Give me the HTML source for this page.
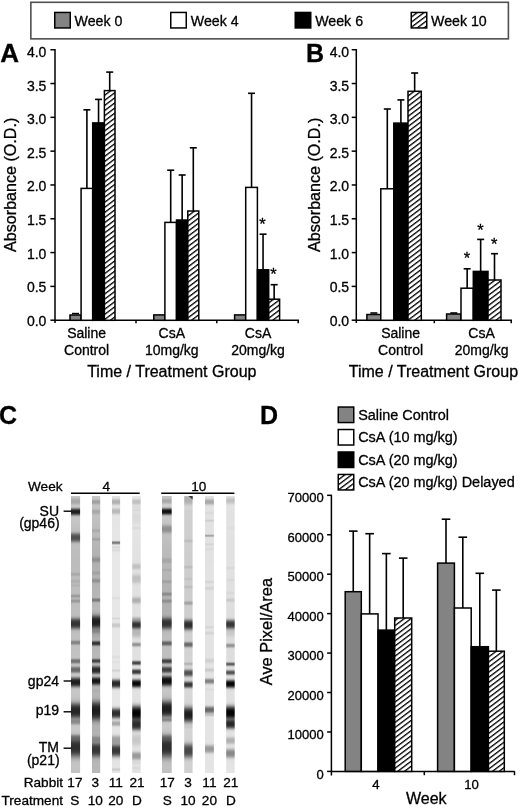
<!DOCTYPE html>
<html><head><meta charset="utf-8"><title>Figure</title>
<style>html,body{margin:0;padding:0;background:#fff;width:520px;height:808px;overflow:hidden;font-family:"Liberation Sans", sans-serif;}</style>
</head><body>
<div style="position:absolute;left:0;top:0;width:520px;height:808px;will-change:transform">
<svg width="520" height="808" viewBox="0 0 520 808" style="position:absolute;left:0;top:0;font-family:'Liberation Sans', sans-serif"><g id="all"><defs>
<pattern id="hatch" patternUnits="userSpaceOnUse" width="4.07" height="4.07" patternTransform="rotate(53)">
<rect width="4.07" height="4.07" fill="#fff"/><rect x="0" y="0" width="1.3" height="4.07" fill="#000"/></pattern>
</defs><rect width="520" height="808" fill="#fff"/><style>text{stroke:#000;stroke-width:0.3px;}</style><rect x="30.85" y="2.30" width="477.55" height="36.55" fill="none" stroke="#505050" stroke-width="1.6"/><rect x="54.75" y="12.45" width="15.50" height="15.50" fill="#838383" stroke="#000" stroke-width="1.5"/><text x="74.60" y="26.00" font-size="14.2" text-anchor="start" font-weight="normal" >Week 0</text><rect x="170.75" y="12.45" width="15.50" height="15.50" fill="#fff" stroke="#000" stroke-width="1.5"/><text x="190.80" y="26.00" font-size="14.2" text-anchor="start" font-weight="normal" >Week 4</text><rect x="295.25" y="12.45" width="15.50" height="15.50" fill="#000" stroke="#000" stroke-width="1.5"/><text x="315.20" y="26.00" font-size="14.2" text-anchor="start" font-weight="normal" >Week 6</text><rect x="411.25" y="12.45" width="15.50" height="15.50" fill="url(#hatch)" stroke="#000" stroke-width="1.5"/><text x="431.00" y="26.00" font-size="14.2" text-anchor="start" font-weight="normal" >Week 10</text><text x="0.30" y="62.00" font-size="25" text-anchor="start" font-weight="bold" transform="translate(0.3,62) scale(1.04,1) translate(-0.3,-62)">A</text><line x1="55.00" y1="48.97" x2="55.00" y2="322.90" stroke="#000" stroke-width="1.5"/><line x1="50.40" y1="320.20" x2="55.00" y2="320.20" stroke="#000" stroke-width="1.5"/><text x="46.40" y="325.80" font-size="14" text-anchor="end" font-weight="normal" >0.0</text><line x1="50.40" y1="286.39" x2="55.00" y2="286.39" stroke="#000" stroke-width="1.5"/><text x="46.40" y="292.19" font-size="14" text-anchor="end" font-weight="normal" >0.5</text><line x1="50.40" y1="252.58" x2="55.00" y2="252.58" stroke="#000" stroke-width="1.5"/><text x="46.40" y="258.58" font-size="14" text-anchor="end" font-weight="normal" >1.0</text><line x1="50.40" y1="218.77" x2="55.00" y2="218.77" stroke="#000" stroke-width="1.5"/><text x="46.40" y="224.97" font-size="14" text-anchor="end" font-weight="normal" >1.5</text><line x1="50.40" y1="184.96" x2="55.00" y2="184.96" stroke="#000" stroke-width="1.5"/><text x="46.40" y="191.36" font-size="14" text-anchor="end" font-weight="normal" >2.0</text><line x1="50.40" y1="151.15" x2="55.00" y2="151.15" stroke="#000" stroke-width="1.5"/><text x="46.40" y="157.75" font-size="14" text-anchor="end" font-weight="normal" >2.5</text><line x1="50.40" y1="117.34" x2="55.00" y2="117.34" stroke="#000" stroke-width="1.5"/><text x="46.40" y="124.14" font-size="14" text-anchor="end" font-weight="normal" >3.0</text><line x1="50.40" y1="83.53" x2="55.00" y2="83.53" stroke="#000" stroke-width="1.5"/><text x="46.40" y="90.53" font-size="14" text-anchor="end" font-weight="normal" >3.5</text><line x1="50.40" y1="49.72" x2="55.00" y2="49.72" stroke="#000" stroke-width="1.5"/><text x="46.40" y="56.92" font-size="14" text-anchor="end" font-weight="normal" >4.0</text><line x1="55.00" y1="320.20" x2="298.95" y2="320.20" stroke="#000" stroke-width="1.5"/><line x1="136.00" y1="320.20" x2="136.00" y2="323.20" stroke="#000" stroke-width="1.5"/><line x1="216.80" y1="320.20" x2="216.80" y2="323.20" stroke="#000" stroke-width="1.5"/><line x1="298.20" y1="320.20" x2="298.20" y2="323.20" stroke="#000" stroke-width="1.5"/><text transform="translate(16.2,184.8) rotate(-90)" font-size="16.1" text-anchor="middle">Absorbance (O.D.)</text><line x1="86.90" y1="188.40" x2="86.90" y2="109.80" stroke="#000" stroke-width="1.6"/><line x1="83.40" y1="109.80" x2="90.40" y2="109.80" stroke="#000" stroke-width="1.6"/><line x1="98.55" y1="122.90" x2="98.55" y2="99.40" stroke="#000" stroke-width="1.6"/><line x1="95.05" y1="99.40" x2="102.05" y2="99.40" stroke="#000" stroke-width="1.6"/><line x1="109.70" y1="90.60" x2="109.70" y2="72.10" stroke="#000" stroke-width="1.6"/><line x1="106.20" y1="72.10" x2="113.20" y2="72.10" stroke="#000" stroke-width="1.6"/><rect x="70.00" y="315.00" width="11.10" height="5.30" fill="#838383" stroke="#000" stroke-width="1.5"/><rect x="81.10" y="188.40" width="11.60" height="131.90" fill="#fff" stroke="#000" stroke-width="1.5"/><rect x="92.70" y="122.90" width="11.70" height="197.40" fill="#000" stroke="#000" stroke-width="1.5"/><rect x="104.40" y="90.60" width="10.60" height="229.70" fill="url(#hatch)" stroke="#000" stroke-width="1.5"/><line x1="72.05" y1="313.60" x2="79.05" y2="313.60" stroke="#000" stroke-width="1.6"/><line x1="170.70" y1="222.40" x2="170.70" y2="170.20" stroke="#000" stroke-width="1.6"/><line x1="167.20" y1="170.20" x2="174.20" y2="170.20" stroke="#000" stroke-width="1.6"/><line x1="182.15" y1="220.00" x2="182.15" y2="175.00" stroke="#000" stroke-width="1.6"/><line x1="178.65" y1="175.00" x2="185.65" y2="175.00" stroke="#000" stroke-width="1.6"/><line x1="193.30" y1="211.00" x2="193.30" y2="147.80" stroke="#000" stroke-width="1.6"/><line x1="189.80" y1="147.80" x2="196.80" y2="147.80" stroke="#000" stroke-width="1.6"/><rect x="153.80" y="314.90" width="11.10" height="5.40" fill="#838383" stroke="#000" stroke-width="1.5"/><rect x="164.90" y="222.40" width="11.60" height="97.90" fill="#fff" stroke="#000" stroke-width="1.5"/><rect x="176.50" y="220.00" width="11.30" height="100.30" fill="#000" stroke="#000" stroke-width="1.5"/><rect x="187.80" y="211.00" width="11.00" height="109.30" fill="url(#hatch)" stroke="#000" stroke-width="1.5"/><line x1="251.55" y1="187.40" x2="251.55" y2="93.30" stroke="#000" stroke-width="1.6"/><line x1="248.05" y1="93.30" x2="255.05" y2="93.30" stroke="#000" stroke-width="1.6"/><line x1="263.05" y1="269.80" x2="263.05" y2="234.20" stroke="#000" stroke-width="1.6"/><line x1="259.55" y1="234.20" x2="266.55" y2="234.20" stroke="#000" stroke-width="1.6"/><line x1="274.15" y1="299.20" x2="274.15" y2="284.70" stroke="#000" stroke-width="1.6"/><line x1="270.65" y1="284.70" x2="277.65" y2="284.70" stroke="#000" stroke-width="1.6"/><rect x="234.60" y="314.90" width="11.10" height="5.40" fill="#838383" stroke="#000" stroke-width="1.5"/><rect x="245.70" y="187.40" width="11.70" height="132.90" fill="#fff" stroke="#000" stroke-width="1.5"/><rect x="257.40" y="269.80" width="11.30" height="50.50" fill="#000" stroke="#000" stroke-width="1.5"/><rect x="268.70" y="299.20" width="10.90" height="21.10" fill="url(#hatch)" stroke="#000" stroke-width="1.5"/><text x="262.40" y="229.98" font-size="16.5" text-anchor="middle" font-weight="normal" >*</text><text x="273.50" y="279.68" font-size="16.5" text-anchor="middle" font-weight="normal" >*</text><text x="86.60" y="338.00" font-size="14" text-anchor="middle" font-weight="normal" >Saline</text><text x="86.60" y="355.00" font-size="14" text-anchor="middle" font-weight="normal" >Control</text><text x="171.80" y="338.00" font-size="14" text-anchor="middle" font-weight="normal" >CsA</text><text x="171.80" y="355.00" font-size="14" text-anchor="middle" font-weight="normal" >10mg/kg</text><text x="258.00" y="338.00" font-size="14" text-anchor="middle" font-weight="normal" >CsA</text><text x="258.00" y="355.00" font-size="14" text-anchor="middle" font-weight="normal" >20mg/kg</text><text x="87.20" y="377.00" font-size="16" text-anchor="start" font-weight="normal" >Time / Treatment Group</text><text x="306.00" y="62.20" font-size="25" text-anchor="start" font-weight="bold" >B</text><line x1="356.30" y1="48.97" x2="356.30" y2="322.90" stroke="#000" stroke-width="1.5"/><line x1="351.70" y1="320.20" x2="356.30" y2="320.20" stroke="#000" stroke-width="1.5"/><text x="349.10" y="325.80" font-size="14" text-anchor="end" font-weight="normal" >0.0</text><line x1="351.70" y1="286.39" x2="356.30" y2="286.39" stroke="#000" stroke-width="1.5"/><text x="349.10" y="292.19" font-size="14" text-anchor="end" font-weight="normal" >0.5</text><line x1="351.70" y1="252.58" x2="356.30" y2="252.58" stroke="#000" stroke-width="1.5"/><text x="349.10" y="258.58" font-size="14" text-anchor="end" font-weight="normal" >1.0</text><line x1="351.70" y1="218.77" x2="356.30" y2="218.77" stroke="#000" stroke-width="1.5"/><text x="349.10" y="224.97" font-size="14" text-anchor="end" font-weight="normal" >1.5</text><line x1="351.70" y1="184.96" x2="356.30" y2="184.96" stroke="#000" stroke-width="1.5"/><text x="349.10" y="191.36" font-size="14" text-anchor="end" font-weight="normal" >2.0</text><line x1="351.70" y1="151.15" x2="356.30" y2="151.15" stroke="#000" stroke-width="1.5"/><text x="349.10" y="157.75" font-size="14" text-anchor="end" font-weight="normal" >2.5</text><line x1="351.70" y1="117.34" x2="356.30" y2="117.34" stroke="#000" stroke-width="1.5"/><text x="349.10" y="124.14" font-size="14" text-anchor="end" font-weight="normal" >3.0</text><line x1="351.70" y1="83.53" x2="356.30" y2="83.53" stroke="#000" stroke-width="1.5"/><text x="349.10" y="90.53" font-size="14" text-anchor="end" font-weight="normal" >3.5</text><line x1="351.70" y1="49.72" x2="356.30" y2="49.72" stroke="#000" stroke-width="1.5"/><text x="349.10" y="56.92" font-size="14" text-anchor="end" font-weight="normal" >4.0</text><line x1="356.30" y1="320.20" x2="511.95" y2="320.20" stroke="#000" stroke-width="1.5"/><line x1="434.30" y1="320.20" x2="434.30" y2="323.20" stroke="#000" stroke-width="1.5"/><line x1="511.20" y1="320.20" x2="511.20" y2="323.20" stroke="#000" stroke-width="1.5"/><text transform="translate(320.3,184.8) rotate(-90)" font-size="16.1" text-anchor="middle">Absorbance (O.D.)</text><line x1="387.30" y1="188.80" x2="387.30" y2="109.00" stroke="#000" stroke-width="1.6"/><line x1="383.80" y1="109.00" x2="390.80" y2="109.00" stroke="#000" stroke-width="1.6"/><line x1="400.90" y1="123.10" x2="400.90" y2="99.90" stroke="#000" stroke-width="1.6"/><line x1="397.40" y1="99.90" x2="404.40" y2="99.90" stroke="#000" stroke-width="1.6"/><line x1="414.65" y1="91.30" x2="414.65" y2="73.00" stroke="#000" stroke-width="1.6"/><line x1="411.15" y1="73.00" x2="418.15" y2="73.00" stroke="#000" stroke-width="1.6"/><rect x="366.90" y="314.50" width="13.90" height="5.80" fill="#838383" stroke="#000" stroke-width="1.5"/><rect x="380.80" y="188.80" width="13.00" height="131.50" fill="#fff" stroke="#000" stroke-width="1.5"/><rect x="393.80" y="123.10" width="14.20" height="197.20" fill="#000" stroke="#000" stroke-width="1.5"/><rect x="408.00" y="91.30" width="13.30" height="229.00" fill="url(#hatch)" stroke="#000" stroke-width="1.5"/><line x1="370.35" y1="313.00" x2="377.35" y2="313.00" stroke="#000" stroke-width="1.6"/><line x1="467.15" y1="288.20" x2="467.15" y2="268.80" stroke="#000" stroke-width="1.6"/><line x1="463.65" y1="268.80" x2="470.65" y2="268.80" stroke="#000" stroke-width="1.6"/><line x1="480.65" y1="271.40" x2="480.65" y2="239.40" stroke="#000" stroke-width="1.6"/><line x1="477.15" y1="239.40" x2="484.15" y2="239.40" stroke="#000" stroke-width="1.6"/><line x1="494.50" y1="280.00" x2="494.50" y2="253.70" stroke="#000" stroke-width="1.6"/><line x1="491.00" y1="253.70" x2="498.00" y2="253.70" stroke="#000" stroke-width="1.6"/><rect x="446.60" y="314.00" width="14.40" height="6.30" fill="#838383" stroke="#000" stroke-width="1.5"/><rect x="461.00" y="288.20" width="12.30" height="32.10" fill="#fff" stroke="#000" stroke-width="1.5"/><rect x="473.30" y="271.40" width="14.70" height="48.90" fill="#000" stroke="#000" stroke-width="1.5"/><rect x="488.00" y="280.00" width="13.00" height="40.30" fill="url(#hatch)" stroke="#000" stroke-width="1.5"/><line x1="450.30" y1="313.00" x2="457.30" y2="313.00" stroke="#000" stroke-width="1.6"/><text x="467.00" y="264.48" font-size="16.5" text-anchor="middle" font-weight="normal" >*</text><text x="480.50" y="235.58" font-size="16.5" text-anchor="middle" font-weight="normal" >*</text><text x="494.20" y="249.58" font-size="16.5" text-anchor="middle" font-weight="normal" >*</text><text x="400.60" y="338.00" font-size="14" text-anchor="middle" font-weight="normal" >Saline</text><text x="400.60" y="355.00" font-size="14" text-anchor="middle" font-weight="normal" >Control</text><text x="481.60" y="338.00" font-size="14" text-anchor="middle" font-weight="normal" >CsA</text><text x="481.60" y="355.00" font-size="14" text-anchor="middle" font-weight="normal" >20mg/kg</text><text x="348.80" y="377.00" font-size="16" text-anchor="start" font-weight="normal" >Time / Treatment Group</text><text x="-1.10" y="423.80" font-size="25" text-anchor="start" font-weight="bold" >C</text><text x="28.00" y="490.80" font-size="13.6" text-anchor="start" font-weight="normal" >Week</text><line x1="71.00" y1="493.20" x2="139.70" y2="493.20" stroke="#000" stroke-width="1.6"/><line x1="161.20" y1="493.20" x2="234.40" y2="493.20" stroke="#000" stroke-width="1.6"/><text x="106.20" y="490.80" font-size="13.6" text-anchor="middle" font-weight="normal" >4</text><text x="198.80" y="490.80" font-size="13.6" text-anchor="middle" font-weight="normal" >10</text><rect x="71" y="496" width="9.10" height="277" fill="url(#s0)"/><rect x="92" y="496" width="8.20" height="277" fill="url(#s1)"/><rect x="112" y="496" width="8.10" height="277" fill="url(#s2)"/><rect x="132.2" y="496" width="8.50" height="277" fill="url(#s3)"/><rect x="162" y="496" width="9.70" height="277" fill="url(#s4)"/><rect x="184.2" y="496" width="8.40" height="277" fill="url(#s5)"/><rect x="205" y="496" width="8.90" height="277" fill="url(#s6)"/><rect x="226.2" y="496" width="8.50" height="277" fill="url(#s7)"/><path d="M188.5,496 L192.6,496 L192.6,499.5 Z" fill="#333"/><defs><linearGradient id="s0" x1="0" y1="0" x2="0" y2="1"><stop offset="0.0000" stop-color="rgb(199,199,199)"/><stop offset="0.0036" stop-color="rgb(197,197,197)"/><stop offset="0.0072" stop-color="rgb(188,188,188)"/><stop offset="0.0108" stop-color="rgb(177,177,177)"/><stop offset="0.0144" stop-color="rgb(170,170,170)"/><stop offset="0.0181" stop-color="rgb(168,168,168)"/><stop offset="0.0217" stop-color="rgb(168,168,168)"/><stop offset="0.0253" stop-color="rgb(172,172,172)"/><stop offset="0.0289" stop-color="rgb(182,182,182)"/><stop offset="0.0325" stop-color="rgb(194,194,194)"/><stop offset="0.0361" stop-color="rgb(201,201,201)"/><stop offset="0.0397" stop-color="rgb(194,194,194)"/><stop offset="0.0433" stop-color="rgb(162,162,162)"/><stop offset="0.0469" stop-color="rgb(105,105,105)"/><stop offset="0.0505" stop-color="rgb(54,54,54)"/><stop offset="0.0542" stop-color="rgb(32,32,32)"/><stop offset="0.0578" stop-color="rgb(30,30,30)"/><stop offset="0.0614" stop-color="rgb(37,37,37)"/><stop offset="0.0650" stop-color="rgb(71,71,71)"/><stop offset="0.0686" stop-color="rgb(127,127,127)"/><stop offset="0.0722" stop-color="rgb(175,175,175)"/><stop offset="0.0758" stop-color="rgb(195,195,195)"/><stop offset="0.0794" stop-color="rgb(198,198,198)"/><stop offset="0.0830" stop-color="rgb(198,198,198)"/><stop offset="0.0866" stop-color="rgb(198,198,198)"/><stop offset="0.0903" stop-color="rgb(197,197,197)"/><stop offset="0.0939" stop-color="rgb(197,197,197)"/><stop offset="0.0975" stop-color="rgb(196,196,196)"/><stop offset="0.1011" stop-color="rgb(195,195,195)"/><stop offset="0.1047" stop-color="rgb(195,195,195)"/><stop offset="0.1083" stop-color="rgb(194,194,194)"/><stop offset="0.1119" stop-color="rgb(194,194,194)"/><stop offset="0.1155" stop-color="rgb(193,193,193)"/><stop offset="0.1191" stop-color="rgb(192,192,192)"/><stop offset="0.1227" stop-color="rgb(191,191,191)"/><stop offset="0.1264" stop-color="rgb(187,187,187)"/><stop offset="0.1300" stop-color="rgb(175,175,175)"/><stop offset="0.1336" stop-color="rgb(153,153,153)"/><stop offset="0.1372" stop-color="rgb(124,124,124)"/><stop offset="0.1408" stop-color="rgb(99,99,99)"/><stop offset="0.1444" stop-color="rgb(85,85,85)"/><stop offset="0.1480" stop-color="rgb(80,80,80)"/><stop offset="0.1516" stop-color="rgb(80,80,80)"/><stop offset="0.1552" stop-color="rgb(84,84,84)"/><stop offset="0.1588" stop-color="rgb(97,97,97)"/><stop offset="0.1625" stop-color="rgb(121,121,121)"/><stop offset="0.1661" stop-color="rgb(149,149,149)"/><stop offset="0.1697" stop-color="rgb(172,172,172)"/><stop offset="0.1733" stop-color="rgb(185,185,185)"/><stop offset="0.1769" stop-color="rgb(189,189,189)"/><stop offset="0.1805" stop-color="rgb(190,190,190)"/><stop offset="0.1841" stop-color="rgb(190,190,190)"/><stop offset="0.1877" stop-color="rgb(190,190,190)"/><stop offset="0.1913" stop-color="rgb(189,189,189)"/><stop offset="0.1949" stop-color="rgb(189,189,189)"/><stop offset="0.1986" stop-color="rgb(189,189,189)"/><stop offset="0.2022" stop-color="rgb(189,189,189)"/><stop offset="0.2058" stop-color="rgb(189,189,189)"/><stop offset="0.2094" stop-color="rgb(189,189,189)"/><stop offset="0.2130" stop-color="rgb(189,189,189)"/><stop offset="0.2166" stop-color="rgb(189,189,189)"/><stop offset="0.2202" stop-color="rgb(188,188,188)"/><stop offset="0.2238" stop-color="rgb(188,188,188)"/><stop offset="0.2274" stop-color="rgb(188,188,188)"/><stop offset="0.2310" stop-color="rgb(188,188,188)"/><stop offset="0.2347" stop-color="rgb(188,188,188)"/><stop offset="0.2383" stop-color="rgb(188,188,188)"/><stop offset="0.2419" stop-color="rgb(188,188,188)"/><stop offset="0.2455" stop-color="rgb(188,188,188)"/><stop offset="0.2491" stop-color="rgb(188,188,188)"/><stop offset="0.2527" stop-color="rgb(188,188,188)"/><stop offset="0.2563" stop-color="rgb(188,188,188)"/><stop offset="0.2599" stop-color="rgb(188,188,188)"/><stop offset="0.2635" stop-color="rgb(188,188,188)"/><stop offset="0.2671" stop-color="rgb(188,188,188)"/><stop offset="0.2708" stop-color="rgb(189,189,189)"/><stop offset="0.2744" stop-color="rgb(188,188,188)"/><stop offset="0.2780" stop-color="rgb(177,177,177)"/><stop offset="0.2816" stop-color="rgb(168,168,168)"/><stop offset="0.2852" stop-color="rgb(169,169,169)"/><stop offset="0.2888" stop-color="rgb(181,181,181)"/><stop offset="0.2924" stop-color="rgb(189,189,189)"/><stop offset="0.2960" stop-color="rgb(189,189,189)"/><stop offset="0.2996" stop-color="rgb(188,188,188)"/><stop offset="0.3032" stop-color="rgb(181,181,181)"/><stop offset="0.3069" stop-color="rgb(176,176,176)"/><stop offset="0.3105" stop-color="rgb(176,176,176)"/><stop offset="0.3141" stop-color="rgb(183,183,183)"/><stop offset="0.3177" stop-color="rgb(188,188,188)"/><stop offset="0.3213" stop-color="rgb(180,180,180)"/><stop offset="0.3249" stop-color="rgb(177,177,177)"/><stop offset="0.3285" stop-color="rgb(189,189,189)"/><stop offset="0.3321" stop-color="rgb(189,189,189)"/><stop offset="0.3357" stop-color="rgb(189,189,189)"/><stop offset="0.3394" stop-color="rgb(190,190,190)"/><stop offset="0.3430" stop-color="rgb(190,190,190)"/><stop offset="0.3466" stop-color="rgb(190,190,190)"/><stop offset="0.3502" stop-color="rgb(190,190,190)"/><stop offset="0.3538" stop-color="rgb(186,186,186)"/><stop offset="0.3574" stop-color="rgb(163,163,163)"/><stop offset="0.3610" stop-color="rgb(152,152,152)"/><stop offset="0.3646" stop-color="rgb(158,158,158)"/><stop offset="0.3682" stop-color="rgb(183,183,183)"/><stop offset="0.3718" stop-color="rgb(182,182,182)"/><stop offset="0.3755" stop-color="rgb(159,159,159)"/><stop offset="0.3791" stop-color="rgb(152,152,152)"/><stop offset="0.3827" stop-color="rgb(158,158,158)"/><stop offset="0.3863" stop-color="rgb(181,181,181)"/><stop offset="0.3899" stop-color="rgb(190,190,190)"/><stop offset="0.3935" stop-color="rgb(190,190,190)"/><stop offset="0.3971" stop-color="rgb(190,190,190)"/><stop offset="0.4007" stop-color="rgb(190,190,190)"/><stop offset="0.4043" stop-color="rgb(190,190,190)"/><stop offset="0.4079" stop-color="rgb(190,190,190)"/><stop offset="0.4116" stop-color="rgb(190,190,190)"/><stop offset="0.4152" stop-color="rgb(191,191,191)"/><stop offset="0.4188" stop-color="rgb(191,191,191)"/><stop offset="0.4224" stop-color="rgb(191,191,191)"/><stop offset="0.4260" stop-color="rgb(190,190,190)"/><stop offset="0.4296" stop-color="rgb(189,189,189)"/><stop offset="0.4332" stop-color="rgb(183,183,183)"/><stop offset="0.4368" stop-color="rgb(170,170,170)"/><stop offset="0.4404" stop-color="rgb(148,148,148)"/><stop offset="0.4440" stop-color="rgb(118,118,118)"/><stop offset="0.4477" stop-color="rgb(89,89,89)"/><stop offset="0.4513" stop-color="rgb(67,67,67)"/><stop offset="0.4549" stop-color="rgb(56,56,56)"/><stop offset="0.4585" stop-color="rgb(52,52,52)"/><stop offset="0.4621" stop-color="rgb(52,52,52)"/><stop offset="0.4657" stop-color="rgb(55,55,55)"/><stop offset="0.4693" stop-color="rgb(64,64,64)"/><stop offset="0.4729" stop-color="rgb(84,84,84)"/><stop offset="0.4765" stop-color="rgb(112,112,112)"/><stop offset="0.4801" stop-color="rgb(143,143,143)"/><stop offset="0.4838" stop-color="rgb(167,167,167)"/><stop offset="0.4874" stop-color="rgb(182,182,182)"/><stop offset="0.4910" stop-color="rgb(189,189,189)"/><stop offset="0.4946" stop-color="rgb(191,191,191)"/><stop offset="0.4982" stop-color="rgb(192,192,192)"/><stop offset="0.5018" stop-color="rgb(192,192,192)"/><stop offset="0.5054" stop-color="rgb(192,192,192)"/><stop offset="0.5090" stop-color="rgb(192,192,192)"/><stop offset="0.5126" stop-color="rgb(192,192,192)"/><stop offset="0.5162" stop-color="rgb(192,192,192)"/><stop offset="0.5199" stop-color="rgb(186,186,186)"/><stop offset="0.5235" stop-color="rgb(156,156,156)"/><stop offset="0.5271" stop-color="rgb(130,130,130)"/><stop offset="0.5307" stop-color="rgb(128,128,128)"/><stop offset="0.5343" stop-color="rgb(146,146,146)"/><stop offset="0.5379" stop-color="rgb(181,181,181)"/><stop offset="0.5415" stop-color="rgb(193,193,193)"/><stop offset="0.5451" stop-color="rgb(193,193,193)"/><stop offset="0.5487" stop-color="rgb(193,193,193)"/><stop offset="0.5523" stop-color="rgb(193,193,193)"/><stop offset="0.5560" stop-color="rgb(194,194,194)"/><stop offset="0.5596" stop-color="rgb(194,194,194)"/><stop offset="0.5632" stop-color="rgb(194,194,194)"/><stop offset="0.5668" stop-color="rgb(194,194,194)"/><stop offset="0.5704" stop-color="rgb(194,194,194)"/><stop offset="0.5740" stop-color="rgb(194,194,194)"/><stop offset="0.5776" stop-color="rgb(195,195,195)"/><stop offset="0.5812" stop-color="rgb(195,195,195)"/><stop offset="0.5848" stop-color="rgb(190,190,190)"/><stop offset="0.5884" stop-color="rgb(162,162,162)"/><stop offset="0.5921" stop-color="rgb(123,123,123)"/><stop offset="0.5957" stop-color="rgb(112,112,112)"/><stop offset="0.5993" stop-color="rgb(116,116,116)"/><stop offset="0.6029" stop-color="rgb(145,145,145)"/><stop offset="0.6065" stop-color="rgb(183,183,183)"/><stop offset="0.6101" stop-color="rgb(194,194,194)"/><stop offset="0.6137" stop-color="rgb(184,184,184)"/><stop offset="0.6173" stop-color="rgb(154,154,154)"/><stop offset="0.6209" stop-color="rgb(121,121,121)"/><stop offset="0.6245" stop-color="rgb(106,106,106)"/><stop offset="0.6282" stop-color="rgb(104,104,104)"/><stop offset="0.6318" stop-color="rgb(109,109,109)"/><stop offset="0.6354" stop-color="rgb(133,133,133)"/><stop offset="0.6390" stop-color="rgb(170,170,170)"/><stop offset="0.6426" stop-color="rgb(196,196,196)"/><stop offset="0.6462" stop-color="rgb(201,201,201)"/><stop offset="0.6498" stop-color="rgb(189,189,189)"/><stop offset="0.6534" stop-color="rgb(160,160,160)"/><stop offset="0.6570" stop-color="rgb(118,118,118)"/><stop offset="0.6606" stop-color="rgb(77,77,77)"/><stop offset="0.6643" stop-color="rgb(47,47,47)"/><stop offset="0.6679" stop-color="rgb(33,33,33)"/><stop offset="0.6715" stop-color="rgb(30,30,30)"/><stop offset="0.6751" stop-color="rgb(31,31,31)"/><stop offset="0.6787" stop-color="rgb(39,39,39)"/><stop offset="0.6823" stop-color="rgb(62,62,62)"/><stop offset="0.6859" stop-color="rgb(99,99,99)"/><stop offset="0.6895" stop-color="rgb(141,141,141)"/><stop offset="0.6931" stop-color="rgb(173,173,173)"/><stop offset="0.6968" stop-color="rgb(192,192,192)"/><stop offset="0.7004" stop-color="rgb(198,198,198)"/><stop offset="0.7040" stop-color="rgb(199,199,199)"/><stop offset="0.7076" stop-color="rgb(199,199,199)"/><stop offset="0.7112" stop-color="rgb(198,198,198)"/><stop offset="0.7148" stop-color="rgb(198,198,198)"/><stop offset="0.7184" stop-color="rgb(197,197,197)"/><stop offset="0.7220" stop-color="rgb(197,197,197)"/><stop offset="0.7256" stop-color="rgb(196,196,196)"/><stop offset="0.7292" stop-color="rgb(194,194,194)"/><stop offset="0.7329" stop-color="rgb(191,191,191)"/><stop offset="0.7365" stop-color="rgb(185,185,185)"/><stop offset="0.7401" stop-color="rgb(175,175,175)"/><stop offset="0.7437" stop-color="rgb(160,160,160)"/><stop offset="0.7473" stop-color="rgb(140,140,140)"/><stop offset="0.7509" stop-color="rgb(117,117,117)"/><stop offset="0.7545" stop-color="rgb(93,93,93)"/><stop offset="0.7581" stop-color="rgb(73,73,73)"/><stop offset="0.7617" stop-color="rgb(57,57,57)"/><stop offset="0.7653" stop-color="rgb(46,46,46)"/><stop offset="0.7690" stop-color="rgb(40,40,40)"/><stop offset="0.7726" stop-color="rgb(38,38,38)"/><stop offset="0.7762" stop-color="rgb(38,38,38)"/><stop offset="0.7798" stop-color="rgb(38,38,38)"/><stop offset="0.7834" stop-color="rgb(41,41,41)"/><stop offset="0.7870" stop-color="rgb(48,48,48)"/><stop offset="0.7906" stop-color="rgb(60,60,60)"/><stop offset="0.7942" stop-color="rgb(77,77,77)"/><stop offset="0.7978" stop-color="rgb(99,99,99)"/><stop offset="0.8014" stop-color="rgb(123,123,123)"/><stop offset="0.8051" stop-color="rgb(140,140,140)"/><stop offset="0.8087" stop-color="rgb(139,139,139)"/><stop offset="0.8123" stop-color="rgb(134,134,134)"/><stop offset="0.8159" stop-color="rgb(138,138,138)"/><stop offset="0.8195" stop-color="rgb(144,144,144)"/><stop offset="0.8231" stop-color="rgb(164,164,164)"/><stop offset="0.8267" stop-color="rgb(189,189,189)"/><stop offset="0.8303" stop-color="rgb(200,200,200)"/><stop offset="0.8339" stop-color="rgb(201,201,201)"/><stop offset="0.8375" stop-color="rgb(201,201,201)"/><stop offset="0.8412" stop-color="rgb(201,201,201)"/><stop offset="0.8448" stop-color="rgb(201,201,201)"/><stop offset="0.8484" stop-color="rgb(200,200,200)"/><stop offset="0.8520" stop-color="rgb(198,198,198)"/><stop offset="0.8556" stop-color="rgb(194,194,194)"/><stop offset="0.8592" stop-color="rgb(183,183,183)"/><stop offset="0.8628" stop-color="rgb(156,156,156)"/><stop offset="0.8664" stop-color="rgb(127,127,127)"/><stop offset="0.8700" stop-color="rgb(112,112,112)"/><stop offset="0.8736" stop-color="rgb(102,102,102)"/><stop offset="0.8773" stop-color="rgb(100,100,100)"/><stop offset="0.8809" stop-color="rgb(94,94,94)"/><stop offset="0.8845" stop-color="rgb(81,81,81)"/><stop offset="0.8881" stop-color="rgb(68,68,68)"/><stop offset="0.8917" stop-color="rgb(58,58,58)"/><stop offset="0.8953" stop-color="rgb(51,51,51)"/><stop offset="0.8989" stop-color="rgb(48,48,48)"/><stop offset="0.9025" stop-color="rgb(46,46,46)"/><stop offset="0.9061" stop-color="rgb(46,46,46)"/><stop offset="0.9097" stop-color="rgb(46,46,46)"/><stop offset="0.9134" stop-color="rgb(47,47,47)"/><stop offset="0.9170" stop-color="rgb(49,49,49)"/><stop offset="0.9206" stop-color="rgb(54,54,54)"/><stop offset="0.9242" stop-color="rgb(62,62,62)"/><stop offset="0.9278" stop-color="rgb(73,73,73)"/><stop offset="0.9314" stop-color="rgb(87,87,87)"/><stop offset="0.9350" stop-color="rgb(104,104,104)"/><stop offset="0.9386" stop-color="rgb(122,122,122)"/><stop offset="0.9422" stop-color="rgb(139,139,139)"/><stop offset="0.9458" stop-color="rgb(155,155,155)"/><stop offset="0.9495" stop-color="rgb(169,169,169)"/><stop offset="0.9531" stop-color="rgb(179,179,179)"/><stop offset="0.9567" stop-color="rgb(187,187,187)"/><stop offset="0.9603" stop-color="rgb(191,191,191)"/><stop offset="0.9639" stop-color="rgb(194,194,194)"/><stop offset="0.9675" stop-color="rgb(195,195,195)"/><stop offset="0.9711" stop-color="rgb(196,196,196)"/><stop offset="0.9747" stop-color="rgb(196,196,196)"/><stop offset="0.9783" stop-color="rgb(196,196,196)"/><stop offset="0.9819" stop-color="rgb(196,196,196)"/><stop offset="0.9856" stop-color="rgb(196,196,196)"/><stop offset="0.9892" stop-color="rgb(195,195,195)"/><stop offset="0.9928" stop-color="rgb(195,195,195)"/><stop offset="0.9964" stop-color="rgb(195,195,195)"/><stop offset="1.0000" stop-color="rgb(195,195,195)"/></linearGradient><linearGradient id="s1" x1="0" y1="0" x2="0" y2="1"><stop offset="0.0000" stop-color="rgb(200,200,200)"/><stop offset="0.0036" stop-color="rgb(200,200,200)"/><stop offset="0.0072" stop-color="rgb(199,199,199)"/><stop offset="0.0108" stop-color="rgb(196,196,196)"/><stop offset="0.0144" stop-color="rgb(180,180,180)"/><stop offset="0.0181" stop-color="rgb(163,163,163)"/><stop offset="0.0217" stop-color="rgb(160,160,160)"/><stop offset="0.0253" stop-color="rgb(164,164,164)"/><stop offset="0.0289" stop-color="rgb(180,180,180)"/><stop offset="0.0325" stop-color="rgb(194,194,194)"/><stop offset="0.0361" stop-color="rgb(197,197,197)"/><stop offset="0.0397" stop-color="rgb(196,196,196)"/><stop offset="0.0433" stop-color="rgb(196,196,196)"/><stop offset="0.0469" stop-color="rgb(192,192,192)"/><stop offset="0.0505" stop-color="rgb(179,179,179)"/><stop offset="0.0542" stop-color="rgb(169,169,169)"/><stop offset="0.0578" stop-color="rgb(168,168,168)"/><stop offset="0.0614" stop-color="rgb(171,171,171)"/><stop offset="0.0650" stop-color="rgb(183,183,183)"/><stop offset="0.0686" stop-color="rgb(192,192,192)"/><stop offset="0.0722" stop-color="rgb(193,193,193)"/><stop offset="0.0758" stop-color="rgb(193,193,193)"/><stop offset="0.0794" stop-color="rgb(193,193,193)"/><stop offset="0.0830" stop-color="rgb(192,192,192)"/><stop offset="0.0866" stop-color="rgb(192,192,192)"/><stop offset="0.0903" stop-color="rgb(192,192,192)"/><stop offset="0.0939" stop-color="rgb(191,191,191)"/><stop offset="0.0975" stop-color="rgb(191,191,191)"/><stop offset="0.1011" stop-color="rgb(190,190,190)"/><stop offset="0.1047" stop-color="rgb(190,190,190)"/><stop offset="0.1083" stop-color="rgb(190,190,190)"/><stop offset="0.1119" stop-color="rgb(189,189,189)"/><stop offset="0.1155" stop-color="rgb(189,189,189)"/><stop offset="0.1191" stop-color="rgb(185,185,185)"/><stop offset="0.1227" stop-color="rgb(171,171,171)"/><stop offset="0.1264" stop-color="rgb(168,168,168)"/><stop offset="0.1300" stop-color="rgb(177,177,177)"/><stop offset="0.1336" stop-color="rgb(186,186,186)"/><stop offset="0.1372" stop-color="rgb(186,186,186)"/><stop offset="0.1408" stop-color="rgb(186,186,186)"/><stop offset="0.1444" stop-color="rgb(186,186,186)"/><stop offset="0.1480" stop-color="rgb(185,185,185)"/><stop offset="0.1516" stop-color="rgb(173,173,173)"/><stop offset="0.1552" stop-color="rgb(160,160,160)"/><stop offset="0.1588" stop-color="rgb(163,163,163)"/><stop offset="0.1625" stop-color="rgb(180,180,180)"/><stop offset="0.1661" stop-color="rgb(183,183,183)"/><stop offset="0.1697" stop-color="rgb(183,183,183)"/><stop offset="0.1733" stop-color="rgb(182,182,182)"/><stop offset="0.1769" stop-color="rgb(182,182,182)"/><stop offset="0.1805" stop-color="rgb(182,182,182)"/><stop offset="0.1841" stop-color="rgb(181,181,181)"/><stop offset="0.1877" stop-color="rgb(181,181,181)"/><stop offset="0.1913" stop-color="rgb(180,180,180)"/><stop offset="0.1949" stop-color="rgb(180,180,180)"/><stop offset="0.1986" stop-color="rgb(180,180,180)"/><stop offset="0.2022" stop-color="rgb(179,179,179)"/><stop offset="0.2058" stop-color="rgb(179,179,179)"/><stop offset="0.2094" stop-color="rgb(178,178,178)"/><stop offset="0.2130" stop-color="rgb(178,178,178)"/><stop offset="0.2166" stop-color="rgb(176,176,176)"/><stop offset="0.2202" stop-color="rgb(168,168,168)"/><stop offset="0.2238" stop-color="rgb(154,154,154)"/><stop offset="0.2274" stop-color="rgb(145,145,145)"/><stop offset="0.2310" stop-color="rgb(144,144,144)"/><stop offset="0.2347" stop-color="rgb(148,148,148)"/><stop offset="0.2383" stop-color="rgb(160,160,160)"/><stop offset="0.2419" stop-color="rgb(172,172,172)"/><stop offset="0.2455" stop-color="rgb(176,176,176)"/><stop offset="0.2491" stop-color="rgb(177,177,177)"/><stop offset="0.2527" stop-color="rgb(177,177,177)"/><stop offset="0.2563" stop-color="rgb(177,177,177)"/><stop offset="0.2599" stop-color="rgb(177,177,177)"/><stop offset="0.2635" stop-color="rgb(177,177,177)"/><stop offset="0.2671" stop-color="rgb(178,178,178)"/><stop offset="0.2708" stop-color="rgb(174,174,174)"/><stop offset="0.2744" stop-color="rgb(163,163,163)"/><stop offset="0.2780" stop-color="rgb(160,160,160)"/><stop offset="0.2816" stop-color="rgb(164,164,164)"/><stop offset="0.2852" stop-color="rgb(175,175,175)"/><stop offset="0.2888" stop-color="rgb(178,178,178)"/><stop offset="0.2924" stop-color="rgb(179,179,179)"/><stop offset="0.2960" stop-color="rgb(176,176,176)"/><stop offset="0.2996" stop-color="rgb(161,161,161)"/><stop offset="0.3032" stop-color="rgb(146,146,146)"/><stop offset="0.3069" stop-color="rgb(144,144,144)"/><stop offset="0.3105" stop-color="rgb(152,152,152)"/><stop offset="0.3141" stop-color="rgb(172,172,172)"/><stop offset="0.3177" stop-color="rgb(179,179,179)"/><stop offset="0.3213" stop-color="rgb(180,180,180)"/><stop offset="0.3249" stop-color="rgb(180,180,180)"/><stop offset="0.3285" stop-color="rgb(180,180,180)"/><stop offset="0.3321" stop-color="rgb(180,180,180)"/><stop offset="0.3357" stop-color="rgb(181,181,181)"/><stop offset="0.3394" stop-color="rgb(181,181,181)"/><stop offset="0.3430" stop-color="rgb(181,181,181)"/><stop offset="0.3466" stop-color="rgb(181,181,181)"/><stop offset="0.3502" stop-color="rgb(181,181,181)"/><stop offset="0.3538" stop-color="rgb(181,181,181)"/><stop offset="0.3574" stop-color="rgb(182,182,182)"/><stop offset="0.3610" stop-color="rgb(182,182,182)"/><stop offset="0.3646" stop-color="rgb(182,182,182)"/><stop offset="0.3682" stop-color="rgb(172,172,172)"/><stop offset="0.3718" stop-color="rgb(133,133,133)"/><stop offset="0.3755" stop-color="rgb(118,118,118)"/><stop offset="0.3791" stop-color="rgb(127,127,127)"/><stop offset="0.3827" stop-color="rgb(167,167,167)"/><stop offset="0.3863" stop-color="rgb(182,182,182)"/><stop offset="0.3899" stop-color="rgb(183,183,183)"/><stop offset="0.3935" stop-color="rgb(183,183,183)"/><stop offset="0.3971" stop-color="rgb(183,183,183)"/><stop offset="0.4007" stop-color="rgb(184,184,184)"/><stop offset="0.4043" stop-color="rgb(184,184,184)"/><stop offset="0.4079" stop-color="rgb(184,184,184)"/><stop offset="0.4116" stop-color="rgb(184,184,184)"/><stop offset="0.4152" stop-color="rgb(182,182,182)"/><stop offset="0.4188" stop-color="rgb(178,178,178)"/><stop offset="0.4224" stop-color="rgb(171,171,171)"/><stop offset="0.4260" stop-color="rgb(159,159,159)"/><stop offset="0.4296" stop-color="rgb(139,139,139)"/><stop offset="0.4332" stop-color="rgb(114,114,114)"/><stop offset="0.4368" stop-color="rgb(86,86,86)"/><stop offset="0.4404" stop-color="rgb(61,61,61)"/><stop offset="0.4440" stop-color="rgb(44,44,44)"/><stop offset="0.4477" stop-color="rgb(34,34,34)"/><stop offset="0.4513" stop-color="rgb(31,31,31)"/><stop offset="0.4549" stop-color="rgb(30,30,30)"/><stop offset="0.4585" stop-color="rgb(31,31,31)"/><stop offset="0.4621" stop-color="rgb(35,35,35)"/><stop offset="0.4657" stop-color="rgb(45,45,45)"/><stop offset="0.4693" stop-color="rgb(62,62,62)"/><stop offset="0.4729" stop-color="rgb(85,85,85)"/><stop offset="0.4765" stop-color="rgb(107,107,107)"/><stop offset="0.4801" stop-color="rgb(125,125,125)"/><stop offset="0.4838" stop-color="rgb(130,130,130)"/><stop offset="0.4874" stop-color="rgb(131,131,131)"/><stop offset="0.4910" stop-color="rgb(137,137,137)"/><stop offset="0.4946" stop-color="rgb(149,149,149)"/><stop offset="0.4982" stop-color="rgb(161,161,161)"/><stop offset="0.5018" stop-color="rgb(165,165,165)"/><stop offset="0.5054" stop-color="rgb(168,168,168)"/><stop offset="0.5090" stop-color="rgb(171,171,171)"/><stop offset="0.5126" stop-color="rgb(174,174,174)"/><stop offset="0.5162" stop-color="rgb(177,177,177)"/><stop offset="0.5199" stop-color="rgb(176,176,176)"/><stop offset="0.5235" stop-color="rgb(141,141,141)"/><stop offset="0.5271" stop-color="rgb(75,75,75)"/><stop offset="0.5307" stop-color="rgb(49,49,49)"/><stop offset="0.5343" stop-color="rgb(51,51,51)"/><stop offset="0.5379" stop-color="rgb(94,94,94)"/><stop offset="0.5415" stop-color="rgb(158,158,158)"/><stop offset="0.5451" stop-color="rgb(180,180,180)"/><stop offset="0.5487" stop-color="rgb(182,182,182)"/><stop offset="0.5523" stop-color="rgb(182,182,182)"/><stop offset="0.5560" stop-color="rgb(182,182,182)"/><stop offset="0.5596" stop-color="rgb(183,183,183)"/><stop offset="0.5632" stop-color="rgb(183,183,183)"/><stop offset="0.5668" stop-color="rgb(183,183,183)"/><stop offset="0.5704" stop-color="rgb(184,184,184)"/><stop offset="0.5740" stop-color="rgb(184,184,184)"/><stop offset="0.5776" stop-color="rgb(184,184,184)"/><stop offset="0.5812" stop-color="rgb(184,184,184)"/><stop offset="0.5848" stop-color="rgb(180,180,180)"/><stop offset="0.5884" stop-color="rgb(138,138,138)"/><stop offset="0.5921" stop-color="rgb(77,77,77)"/><stop offset="0.5957" stop-color="rgb(64,64,64)"/><stop offset="0.5993" stop-color="rgb(81,81,81)"/><stop offset="0.6029" stop-color="rgb(145,145,145)"/><stop offset="0.6065" stop-color="rgb(179,179,179)"/><stop offset="0.6101" stop-color="rgb(171,171,171)"/><stop offset="0.6137" stop-color="rgb(141,141,141)"/><stop offset="0.6173" stop-color="rgb(98,98,98)"/><stop offset="0.6209" stop-color="rgb(61,61,61)"/><stop offset="0.6245" stop-color="rgb(43,43,43)"/><stop offset="0.6282" stop-color="rgb(40,40,40)"/><stop offset="0.6318" stop-color="rgb(42,42,42)"/><stop offset="0.6354" stop-color="rgb(58,58,58)"/><stop offset="0.6390" stop-color="rgb(96,96,96)"/><stop offset="0.6426" stop-color="rgb(145,145,145)"/><stop offset="0.6462" stop-color="rgb(182,182,182)"/><stop offset="0.6498" stop-color="rgb(182,182,182)"/><stop offset="0.6534" stop-color="rgb(143,143,143)"/><stop offset="0.6570" stop-color="rgb(88,88,88)"/><stop offset="0.6606" stop-color="rgb(45,45,45)"/><stop offset="0.6643" stop-color="rgb(25,25,25)"/><stop offset="0.6679" stop-color="rgb(22,22,22)"/><stop offset="0.6715" stop-color="rgb(25,25,25)"/><stop offset="0.6751" stop-color="rgb(42,42,42)"/><stop offset="0.6787" stop-color="rgb(81,81,81)"/><stop offset="0.6823" stop-color="rgb(129,129,129)"/><stop offset="0.6859" stop-color="rgb(164,164,164)"/><stop offset="0.6895" stop-color="rgb(179,179,179)"/><stop offset="0.6931" stop-color="rgb(181,181,181)"/><stop offset="0.6968" stop-color="rgb(179,179,179)"/><stop offset="0.7004" stop-color="rgb(176,176,176)"/><stop offset="0.7040" stop-color="rgb(177,177,177)"/><stop offset="0.7076" stop-color="rgb(179,179,179)"/><stop offset="0.7112" stop-color="rgb(180,180,180)"/><stop offset="0.7148" stop-color="rgb(181,181,181)"/><stop offset="0.7184" stop-color="rgb(182,182,182)"/><stop offset="0.7220" stop-color="rgb(181,181,181)"/><stop offset="0.7256" stop-color="rgb(179,179,179)"/><stop offset="0.7292" stop-color="rgb(174,174,174)"/><stop offset="0.7329" stop-color="rgb(167,167,167)"/><stop offset="0.7365" stop-color="rgb(155,155,155)"/><stop offset="0.7401" stop-color="rgb(138,138,138)"/><stop offset="0.7437" stop-color="rgb(120,120,120)"/><stop offset="0.7473" stop-color="rgb(100,100,100)"/><stop offset="0.7509" stop-color="rgb(81,81,81)"/><stop offset="0.7545" stop-color="rgb(64,64,64)"/><stop offset="0.7581" stop-color="rgb(51,51,51)"/><stop offset="0.7617" stop-color="rgb(41,41,41)"/><stop offset="0.7653" stop-color="rgb(35,35,35)"/><stop offset="0.7690" stop-color="rgb(31,31,31)"/><stop offset="0.7726" stop-color="rgb(30,30,30)"/><stop offset="0.7762" stop-color="rgb(30,30,30)"/><stop offset="0.7798" stop-color="rgb(30,30,30)"/><stop offset="0.7834" stop-color="rgb(32,32,32)"/><stop offset="0.7870" stop-color="rgb(35,35,35)"/><stop offset="0.7906" stop-color="rgb(42,42,42)"/><stop offset="0.7942" stop-color="rgb(52,52,52)"/><stop offset="0.7978" stop-color="rgb(65,65,65)"/><stop offset="0.8014" stop-color="rgb(82,82,82)"/><stop offset="0.8051" stop-color="rgb(100,100,100)"/><stop offset="0.8087" stop-color="rgb(119,119,119)"/><stop offset="0.8123" stop-color="rgb(136,136,136)"/><stop offset="0.8159" stop-color="rgb(151,151,151)"/><stop offset="0.8195" stop-color="rgb(162,162,162)"/><stop offset="0.8231" stop-color="rgb(169,169,169)"/><stop offset="0.8267" stop-color="rgb(174,174,174)"/><stop offset="0.8303" stop-color="rgb(177,177,177)"/><stop offset="0.8339" stop-color="rgb(178,178,178)"/><stop offset="0.8375" stop-color="rgb(178,178,178)"/><stop offset="0.8412" stop-color="rgb(178,178,178)"/><stop offset="0.8448" stop-color="rgb(178,178,178)"/><stop offset="0.8484" stop-color="rgb(178,178,178)"/><stop offset="0.8520" stop-color="rgb(178,178,178)"/><stop offset="0.8556" stop-color="rgb(178,178,178)"/><stop offset="0.8592" stop-color="rgb(178,178,178)"/><stop offset="0.8628" stop-color="rgb(177,177,177)"/><stop offset="0.8664" stop-color="rgb(167,167,167)"/><stop offset="0.8700" stop-color="rgb(150,150,150)"/><stop offset="0.8736" stop-color="rgb(138,138,138)"/><stop offset="0.8773" stop-color="rgb(134,134,134)"/><stop offset="0.8809" stop-color="rgb(131,131,131)"/><stop offset="0.8845" stop-color="rgb(133,133,133)"/><stop offset="0.8881" stop-color="rgb(136,136,136)"/><stop offset="0.8917" stop-color="rgb(127,127,127)"/><stop offset="0.8953" stop-color="rgb(108,108,108)"/><stop offset="0.8989" stop-color="rgb(89,89,89)"/><stop offset="0.9025" stop-color="rgb(72,72,72)"/><stop offset="0.9061" stop-color="rgb(62,62,62)"/><stop offset="0.9097" stop-color="rgb(56,56,56)"/><stop offset="0.9134" stop-color="rgb(54,54,54)"/><stop offset="0.9170" stop-color="rgb(54,54,54)"/><stop offset="0.9206" stop-color="rgb(55,55,55)"/><stop offset="0.9242" stop-color="rgb(58,58,58)"/><stop offset="0.9278" stop-color="rgb(66,66,66)"/><stop offset="0.9314" stop-color="rgb(79,79,79)"/><stop offset="0.9350" stop-color="rgb(97,97,97)"/><stop offset="0.9386" stop-color="rgb(118,118,118)"/><stop offset="0.9422" stop-color="rgb(139,139,139)"/><stop offset="0.9458" stop-color="rgb(156,156,156)"/><stop offset="0.9495" stop-color="rgb(169,169,169)"/><stop offset="0.9531" stop-color="rgb(176,176,176)"/><stop offset="0.9567" stop-color="rgb(180,180,180)"/><stop offset="0.9603" stop-color="rgb(182,182,182)"/><stop offset="0.9639" stop-color="rgb(182,182,182)"/><stop offset="0.9675" stop-color="rgb(183,183,183)"/><stop offset="0.9711" stop-color="rgb(183,183,183)"/><stop offset="0.9747" stop-color="rgb(183,183,183)"/><stop offset="0.9783" stop-color="rgb(183,183,183)"/><stop offset="0.9819" stop-color="rgb(183,183,183)"/><stop offset="0.9856" stop-color="rgb(183,183,183)"/><stop offset="0.9892" stop-color="rgb(184,184,184)"/><stop offset="0.9928" stop-color="rgb(184,184,184)"/><stop offset="0.9964" stop-color="rgb(184,184,184)"/><stop offset="1.0000" stop-color="rgb(184,184,184)"/></linearGradient><linearGradient id="s2" x1="0" y1="0" x2="0" y2="1"><stop offset="0.0000" stop-color="rgb(226,226,226)"/><stop offset="0.0036" stop-color="rgb(226,226,226)"/><stop offset="0.0072" stop-color="rgb(223,223,223)"/><stop offset="0.0108" stop-color="rgb(209,209,209)"/><stop offset="0.0144" stop-color="rgb(189,189,189)"/><stop offset="0.0181" stop-color="rgb(178,178,178)"/><stop offset="0.0217" stop-color="rgb(176,176,176)"/><stop offset="0.0253" stop-color="rgb(179,179,179)"/><stop offset="0.0289" stop-color="rgb(193,193,193)"/><stop offset="0.0325" stop-color="rgb(214,214,214)"/><stop offset="0.0361" stop-color="rgb(225,225,225)"/><stop offset="0.0397" stop-color="rgb(226,226,226)"/><stop offset="0.0433" stop-color="rgb(219,219,219)"/><stop offset="0.0469" stop-color="rgb(202,202,202)"/><stop offset="0.0505" stop-color="rgb(188,188,188)"/><stop offset="0.0542" stop-color="rgb(184,184,184)"/><stop offset="0.0578" stop-color="rgb(185,185,185)"/><stop offset="0.0614" stop-color="rgb(193,193,193)"/><stop offset="0.0650" stop-color="rgb(210,210,210)"/><stop offset="0.0686" stop-color="rgb(224,224,224)"/><stop offset="0.0722" stop-color="rgb(228,228,228)"/><stop offset="0.0758" stop-color="rgb(229,229,229)"/><stop offset="0.0794" stop-color="rgb(229,229,229)"/><stop offset="0.0830" stop-color="rgb(229,229,229)"/><stop offset="0.0866" stop-color="rgb(229,229,229)"/><stop offset="0.0903" stop-color="rgb(229,229,229)"/><stop offset="0.0939" stop-color="rgb(229,229,229)"/><stop offset="0.0975" stop-color="rgb(229,229,229)"/><stop offset="0.1011" stop-color="rgb(229,229,229)"/><stop offset="0.1047" stop-color="rgb(229,229,229)"/><stop offset="0.1083" stop-color="rgb(229,229,229)"/><stop offset="0.1119" stop-color="rgb(229,229,229)"/><stop offset="0.1155" stop-color="rgb(229,229,229)"/><stop offset="0.1191" stop-color="rgb(230,230,230)"/><stop offset="0.1227" stop-color="rgb(230,230,230)"/><stop offset="0.1264" stop-color="rgb(230,230,230)"/><stop offset="0.1300" stop-color="rgb(230,230,230)"/><stop offset="0.1336" stop-color="rgb(230,230,230)"/><stop offset="0.1372" stop-color="rgb(230,230,230)"/><stop offset="0.1408" stop-color="rgb(230,230,230)"/><stop offset="0.1444" stop-color="rgb(230,230,230)"/><stop offset="0.1480" stop-color="rgb(230,230,230)"/><stop offset="0.1516" stop-color="rgb(230,230,230)"/><stop offset="0.1552" stop-color="rgb(230,230,230)"/><stop offset="0.1588" stop-color="rgb(230,230,230)"/><stop offset="0.1625" stop-color="rgb(213,213,213)"/><stop offset="0.1661" stop-color="rgb(128,128,128)"/><stop offset="0.1697" stop-color="rgb(113,113,113)"/><stop offset="0.1733" stop-color="rgb(171,171,171)"/><stop offset="0.1769" stop-color="rgb(229,229,229)"/><stop offset="0.1805" stop-color="rgb(230,230,230)"/><stop offset="0.1841" stop-color="rgb(209,209,209)"/><stop offset="0.1877" stop-color="rgb(220,220,220)"/><stop offset="0.1913" stop-color="rgb(230,230,230)"/><stop offset="0.1949" stop-color="rgb(214,214,214)"/><stop offset="0.1986" stop-color="rgb(223,223,223)"/><stop offset="0.2022" stop-color="rgb(231,231,231)"/><stop offset="0.2058" stop-color="rgb(231,231,231)"/><stop offset="0.2094" stop-color="rgb(232,232,232)"/><stop offset="0.2130" stop-color="rgb(232,232,232)"/><stop offset="0.2166" stop-color="rgb(232,232,232)"/><stop offset="0.2202" stop-color="rgb(232,232,232)"/><stop offset="0.2238" stop-color="rgb(232,232,232)"/><stop offset="0.2274" stop-color="rgb(232,232,232)"/><stop offset="0.2310" stop-color="rgb(232,232,232)"/><stop offset="0.2347" stop-color="rgb(232,232,232)"/><stop offset="0.2383" stop-color="rgb(232,232,232)"/><stop offset="0.2419" stop-color="rgb(232,232,232)"/><stop offset="0.2455" stop-color="rgb(232,232,232)"/><stop offset="0.2491" stop-color="rgb(232,232,232)"/><stop offset="0.2527" stop-color="rgb(232,232,232)"/><stop offset="0.2563" stop-color="rgb(232,232,232)"/><stop offset="0.2599" stop-color="rgb(232,232,232)"/><stop offset="0.2635" stop-color="rgb(232,232,232)"/><stop offset="0.2671" stop-color="rgb(232,232,232)"/><stop offset="0.2708" stop-color="rgb(232,232,232)"/><stop offset="0.2744" stop-color="rgb(232,232,232)"/><stop offset="0.2780" stop-color="rgb(232,232,232)"/><stop offset="0.2816" stop-color="rgb(232,232,232)"/><stop offset="0.2852" stop-color="rgb(232,232,232)"/><stop offset="0.2888" stop-color="rgb(232,232,232)"/><stop offset="0.2924" stop-color="rgb(232,232,232)"/><stop offset="0.2960" stop-color="rgb(232,232,232)"/><stop offset="0.2996" stop-color="rgb(232,232,232)"/><stop offset="0.3032" stop-color="rgb(232,232,232)"/><stop offset="0.3069" stop-color="rgb(232,232,232)"/><stop offset="0.3105" stop-color="rgb(232,232,232)"/><stop offset="0.3141" stop-color="rgb(232,232,232)"/><stop offset="0.3177" stop-color="rgb(232,232,232)"/><stop offset="0.3213" stop-color="rgb(232,232,232)"/><stop offset="0.3249" stop-color="rgb(232,232,232)"/><stop offset="0.3285" stop-color="rgb(232,232,232)"/><stop offset="0.3321" stop-color="rgb(232,232,232)"/><stop offset="0.3357" stop-color="rgb(232,232,232)"/><stop offset="0.3394" stop-color="rgb(232,232,232)"/><stop offset="0.3430" stop-color="rgb(232,232,232)"/><stop offset="0.3466" stop-color="rgb(232,232,232)"/><stop offset="0.3502" stop-color="rgb(232,232,232)"/><stop offset="0.3538" stop-color="rgb(232,232,232)"/><stop offset="0.3574" stop-color="rgb(231,231,231)"/><stop offset="0.3610" stop-color="rgb(231,231,231)"/><stop offset="0.3646" stop-color="rgb(226,226,226)"/><stop offset="0.3682" stop-color="rgb(220,220,220)"/><stop offset="0.3718" stop-color="rgb(226,226,226)"/><stop offset="0.3755" stop-color="rgb(231,231,231)"/><stop offset="0.3791" stop-color="rgb(231,231,231)"/><stop offset="0.3827" stop-color="rgb(231,231,231)"/><stop offset="0.3863" stop-color="rgb(231,231,231)"/><stop offset="0.3899" stop-color="rgb(231,231,231)"/><stop offset="0.3935" stop-color="rgb(231,231,231)"/><stop offset="0.3971" stop-color="rgb(231,231,231)"/><stop offset="0.4007" stop-color="rgb(231,231,231)"/><stop offset="0.4043" stop-color="rgb(231,231,231)"/><stop offset="0.4079" stop-color="rgb(231,231,231)"/><stop offset="0.4116" stop-color="rgb(231,231,231)"/><stop offset="0.4152" stop-color="rgb(231,231,231)"/><stop offset="0.4188" stop-color="rgb(231,231,231)"/><stop offset="0.4224" stop-color="rgb(231,231,231)"/><stop offset="0.4260" stop-color="rgb(231,231,231)"/><stop offset="0.4296" stop-color="rgb(231,231,231)"/><stop offset="0.4332" stop-color="rgb(231,231,231)"/><stop offset="0.4368" stop-color="rgb(231,231,231)"/><stop offset="0.4404" stop-color="rgb(216,216,216)"/><stop offset="0.4440" stop-color="rgb(216,216,216)"/><stop offset="0.4477" stop-color="rgb(231,231,231)"/><stop offset="0.4513" stop-color="rgb(231,231,231)"/><stop offset="0.4549" stop-color="rgb(230,230,230)"/><stop offset="0.4585" stop-color="rgb(222,222,222)"/><stop offset="0.4621" stop-color="rgb(206,206,206)"/><stop offset="0.4657" stop-color="rgb(200,200,200)"/><stop offset="0.4693" stop-color="rgb(201,201,201)"/><stop offset="0.4729" stop-color="rgb(211,211,211)"/><stop offset="0.4765" stop-color="rgb(226,226,226)"/><stop offset="0.4801" stop-color="rgb(231,231,231)"/><stop offset="0.4838" stop-color="rgb(231,231,231)"/><stop offset="0.4874" stop-color="rgb(231,231,231)"/><stop offset="0.4910" stop-color="rgb(231,231,231)"/><stop offset="0.4946" stop-color="rgb(231,231,231)"/><stop offset="0.4982" stop-color="rgb(231,231,231)"/><stop offset="0.5018" stop-color="rgb(231,231,231)"/><stop offset="0.5054" stop-color="rgb(231,231,231)"/><stop offset="0.5090" stop-color="rgb(231,231,231)"/><stop offset="0.5126" stop-color="rgb(231,231,231)"/><stop offset="0.5162" stop-color="rgb(231,231,231)"/><stop offset="0.5199" stop-color="rgb(231,231,231)"/><stop offset="0.5235" stop-color="rgb(231,231,231)"/><stop offset="0.5271" stop-color="rgb(231,231,231)"/><stop offset="0.5307" stop-color="rgb(231,231,231)"/><stop offset="0.5343" stop-color="rgb(231,231,231)"/><stop offset="0.5379" stop-color="rgb(231,231,231)"/><stop offset="0.5415" stop-color="rgb(231,231,231)"/><stop offset="0.5451" stop-color="rgb(231,231,231)"/><stop offset="0.5487" stop-color="rgb(231,231,231)"/><stop offset="0.5523" stop-color="rgb(231,231,231)"/><stop offset="0.5560" stop-color="rgb(231,231,231)"/><stop offset="0.5596" stop-color="rgb(231,231,231)"/><stop offset="0.5632" stop-color="rgb(231,231,231)"/><stop offset="0.5668" stop-color="rgb(231,231,231)"/><stop offset="0.5704" stop-color="rgb(231,231,231)"/><stop offset="0.5740" stop-color="rgb(231,231,231)"/><stop offset="0.5776" stop-color="rgb(225,225,225)"/><stop offset="0.5812" stop-color="rgb(220,220,220)"/><stop offset="0.5848" stop-color="rgb(225,225,225)"/><stop offset="0.5884" stop-color="rgb(231,231,231)"/><stop offset="0.5921" stop-color="rgb(231,231,231)"/><stop offset="0.5957" stop-color="rgb(227,227,227)"/><stop offset="0.5993" stop-color="rgb(224,224,224)"/><stop offset="0.6029" stop-color="rgb(227,227,227)"/><stop offset="0.6065" stop-color="rgb(230,230,230)"/><stop offset="0.6101" stop-color="rgb(230,230,230)"/><stop offset="0.6137" stop-color="rgb(230,230,230)"/><stop offset="0.6173" stop-color="rgb(230,230,230)"/><stop offset="0.6209" stop-color="rgb(230,230,230)"/><stop offset="0.6245" stop-color="rgb(229,229,229)"/><stop offset="0.6282" stop-color="rgb(211,211,211)"/><stop offset="0.6318" stop-color="rgb(209,209,209)"/><stop offset="0.6354" stop-color="rgb(227,227,227)"/><stop offset="0.6390" stop-color="rgb(230,230,230)"/><stop offset="0.6426" stop-color="rgb(230,230,230)"/><stop offset="0.6462" stop-color="rgb(230,230,230)"/><stop offset="0.6498" stop-color="rgb(230,230,230)"/><stop offset="0.6534" stop-color="rgb(227,227,227)"/><stop offset="0.6570" stop-color="rgb(215,215,215)"/><stop offset="0.6606" stop-color="rgb(184,184,184)"/><stop offset="0.6643" stop-color="rgb(135,135,135)"/><stop offset="0.6679" stop-color="rgb(85,85,85)"/><stop offset="0.6715" stop-color="rgb(52,52,52)"/><stop offset="0.6751" stop-color="rgb(41,41,41)"/><stop offset="0.6787" stop-color="rgb(40,40,40)"/><stop offset="0.6823" stop-color="rgb(46,46,46)"/><stop offset="0.6859" stop-color="rgb(69,69,69)"/><stop offset="0.6895" stop-color="rgb(114,114,114)"/><stop offset="0.6931" stop-color="rgb(166,166,166)"/><stop offset="0.6968" stop-color="rgb(205,205,205)"/><stop offset="0.7004" stop-color="rgb(224,224,224)"/><stop offset="0.7040" stop-color="rgb(229,229,229)"/><stop offset="0.7076" stop-color="rgb(230,230,230)"/><stop offset="0.7112" stop-color="rgb(230,230,230)"/><stop offset="0.7148" stop-color="rgb(230,230,230)"/><stop offset="0.7184" stop-color="rgb(230,230,230)"/><stop offset="0.7220" stop-color="rgb(230,230,230)"/><stop offset="0.7256" stop-color="rgb(230,230,230)"/><stop offset="0.7292" stop-color="rgb(230,230,230)"/><stop offset="0.7329" stop-color="rgb(230,230,230)"/><stop offset="0.7365" stop-color="rgb(230,230,230)"/><stop offset="0.7401" stop-color="rgb(230,230,230)"/><stop offset="0.7437" stop-color="rgb(230,230,230)"/><stop offset="0.7473" stop-color="rgb(230,230,230)"/><stop offset="0.7509" stop-color="rgb(230,230,230)"/><stop offset="0.7545" stop-color="rgb(228,228,228)"/><stop offset="0.7581" stop-color="rgb(222,222,222)"/><stop offset="0.7617" stop-color="rgb(205,205,205)"/><stop offset="0.7653" stop-color="rgb(175,175,175)"/><stop offset="0.7690" stop-color="rgb(134,134,134)"/><stop offset="0.7726" stop-color="rgb(93,93,93)"/><stop offset="0.7762" stop-color="rgb(64,64,64)"/><stop offset="0.7798" stop-color="rgb(50,50,50)"/><stop offset="0.7834" stop-color="rgb(46,46,46)"/><stop offset="0.7870" stop-color="rgb(46,46,46)"/><stop offset="0.7906" stop-color="rgb(52,52,52)"/><stop offset="0.7942" stop-color="rgb(71,71,71)"/><stop offset="0.7978" stop-color="rgb(104,104,104)"/><stop offset="0.8014" stop-color="rgb(146,146,146)"/><stop offset="0.8051" stop-color="rgb(185,185,185)"/><stop offset="0.8087" stop-color="rgb(208,208,208)"/><stop offset="0.8123" stop-color="rgb(202,202,202)"/><stop offset="0.8159" stop-color="rgb(179,179,179)"/><stop offset="0.8195" stop-color="rgb(168,168,168)"/><stop offset="0.8231" stop-color="rgb(168,168,168)"/><stop offset="0.8267" stop-color="rgb(180,180,180)"/><stop offset="0.8303" stop-color="rgb(207,207,207)"/><stop offset="0.8339" stop-color="rgb(225,225,225)"/><stop offset="0.8375" stop-color="rgb(229,229,229)"/><stop offset="0.8412" stop-color="rgb(229,229,229)"/><stop offset="0.8448" stop-color="rgb(229,229,229)"/><stop offset="0.8484" stop-color="rgb(229,229,229)"/><stop offset="0.8520" stop-color="rgb(229,229,229)"/><stop offset="0.8556" stop-color="rgb(228,228,228)"/><stop offset="0.8592" stop-color="rgb(223,223,223)"/><stop offset="0.8628" stop-color="rgb(212,212,212)"/><stop offset="0.8664" stop-color="rgb(195,195,195)"/><stop offset="0.8700" stop-color="rgb(177,177,177)"/><stop offset="0.8736" stop-color="rgb(165,165,165)"/><stop offset="0.8773" stop-color="rgb(160,160,160)"/><stop offset="0.8809" stop-color="rgb(159,159,159)"/><stop offset="0.8845" stop-color="rgb(158,158,158)"/><stop offset="0.8881" stop-color="rgb(159,159,159)"/><stop offset="0.8917" stop-color="rgb(159,159,159)"/><stop offset="0.8953" stop-color="rgb(153,153,153)"/><stop offset="0.8989" stop-color="rgb(135,135,135)"/><stop offset="0.9025" stop-color="rgb(109,109,109)"/><stop offset="0.9061" stop-color="rgb(84,84,84)"/><stop offset="0.9097" stop-color="rgb(67,67,67)"/><stop offset="0.9134" stop-color="rgb(58,58,58)"/><stop offset="0.9170" stop-color="rgb(56,56,56)"/><stop offset="0.9206" stop-color="rgb(56,56,56)"/><stop offset="0.9242" stop-color="rgb(58,58,58)"/><stop offset="0.9278" stop-color="rgb(67,67,67)"/><stop offset="0.9314" stop-color="rgb(84,84,84)"/><stop offset="0.9350" stop-color="rgb(110,110,110)"/><stop offset="0.9386" stop-color="rgb(142,142,142)"/><stop offset="0.9422" stop-color="rgb(174,174,174)"/><stop offset="0.9458" stop-color="rgb(199,199,199)"/><stop offset="0.9495" stop-color="rgb(215,215,215)"/><stop offset="0.9531" stop-color="rgb(224,224,224)"/><stop offset="0.9567" stop-color="rgb(227,227,227)"/><stop offset="0.9603" stop-color="rgb(228,228,228)"/><stop offset="0.9639" stop-color="rgb(228,228,228)"/><stop offset="0.9675" stop-color="rgb(228,228,228)"/><stop offset="0.9711" stop-color="rgb(228,228,228)"/><stop offset="0.9747" stop-color="rgb(228,228,228)"/><stop offset="0.9783" stop-color="rgb(228,228,228)"/><stop offset="0.9819" stop-color="rgb(225,225,225)"/><stop offset="0.9856" stop-color="rgb(202,202,202)"/><stop offset="0.9892" stop-color="rgb(202,202,202)"/><stop offset="0.9928" stop-color="rgb(225,225,225)"/><stop offset="0.9964" stop-color="rgb(228,228,228)"/><stop offset="1.0000" stop-color="rgb(228,228,228)"/></linearGradient><linearGradient id="s3" x1="0" y1="0" x2="0" y2="1"><stop offset="0.0000" stop-color="rgb(232,232,232)"/><stop offset="0.0036" stop-color="rgb(232,232,232)"/><stop offset="0.0072" stop-color="rgb(229,229,229)"/><stop offset="0.0108" stop-color="rgb(218,218,218)"/><stop offset="0.0144" stop-color="rgb(203,203,203)"/><stop offset="0.0181" stop-color="rgb(193,193,193)"/><stop offset="0.0217" stop-color="rgb(192,192,192)"/><stop offset="0.0253" stop-color="rgb(194,194,194)"/><stop offset="0.0289" stop-color="rgb(205,205,205)"/><stop offset="0.0325" stop-color="rgb(220,220,220)"/><stop offset="0.0361" stop-color="rgb(222,222,222)"/><stop offset="0.0397" stop-color="rgb(216,216,216)"/><stop offset="0.0433" stop-color="rgb(223,223,223)"/><stop offset="0.0469" stop-color="rgb(222,222,222)"/><stop offset="0.0505" stop-color="rgb(214,214,214)"/><stop offset="0.0542" stop-color="rgb(220,220,220)"/><stop offset="0.0578" stop-color="rgb(224,224,224)"/><stop offset="0.0614" stop-color="rgb(222,222,222)"/><stop offset="0.0650" stop-color="rgb(220,220,220)"/><stop offset="0.0686" stop-color="rgb(219,219,219)"/><stop offset="0.0722" stop-color="rgb(218,218,218)"/><stop offset="0.0758" stop-color="rgb(218,218,218)"/><stop offset="0.0794" stop-color="rgb(218,218,218)"/><stop offset="0.0830" stop-color="rgb(218,218,218)"/><stop offset="0.0866" stop-color="rgb(218,218,218)"/><stop offset="0.0903" stop-color="rgb(220,220,220)"/><stop offset="0.0939" stop-color="rgb(221,221,221)"/><stop offset="0.0975" stop-color="rgb(223,223,223)"/><stop offset="0.1011" stop-color="rgb(225,225,225)"/><stop offset="0.1047" stop-color="rgb(227,227,227)"/><stop offset="0.1083" stop-color="rgb(228,228,228)"/><stop offset="0.1119" stop-color="rgb(222,222,222)"/><stop offset="0.1155" stop-color="rgb(216,216,216)"/><stop offset="0.1191" stop-color="rgb(222,222,222)"/><stop offset="0.1227" stop-color="rgb(228,228,228)"/><stop offset="0.1264" stop-color="rgb(228,228,228)"/><stop offset="0.1300" stop-color="rgb(228,228,228)"/><stop offset="0.1336" stop-color="rgb(228,228,228)"/><stop offset="0.1372" stop-color="rgb(228,228,228)"/><stop offset="0.1408" stop-color="rgb(228,228,228)"/><stop offset="0.1444" stop-color="rgb(228,228,228)"/><stop offset="0.1480" stop-color="rgb(228,228,228)"/><stop offset="0.1516" stop-color="rgb(227,227,227)"/><stop offset="0.1552" stop-color="rgb(227,227,227)"/><stop offset="0.1588" stop-color="rgb(227,227,227)"/><stop offset="0.1625" stop-color="rgb(227,227,227)"/><stop offset="0.1661" stop-color="rgb(227,227,227)"/><stop offset="0.1697" stop-color="rgb(227,227,227)"/><stop offset="0.1733" stop-color="rgb(227,227,227)"/><stop offset="0.1769" stop-color="rgb(227,227,227)"/><stop offset="0.1805" stop-color="rgb(227,227,227)"/><stop offset="0.1841" stop-color="rgb(226,226,226)"/><stop offset="0.1877" stop-color="rgb(226,226,226)"/><stop offset="0.1913" stop-color="rgb(226,226,226)"/><stop offset="0.1949" stop-color="rgb(226,226,226)"/><stop offset="0.1986" stop-color="rgb(226,226,226)"/><stop offset="0.2022" stop-color="rgb(226,226,226)"/><stop offset="0.2058" stop-color="rgb(226,226,226)"/><stop offset="0.2094" stop-color="rgb(226,226,226)"/><stop offset="0.2130" stop-color="rgb(226,226,226)"/><stop offset="0.2166" stop-color="rgb(225,225,225)"/><stop offset="0.2202" stop-color="rgb(225,225,225)"/><stop offset="0.2238" stop-color="rgb(225,225,225)"/><stop offset="0.2274" stop-color="rgb(225,225,225)"/><stop offset="0.2310" stop-color="rgb(225,225,225)"/><stop offset="0.2347" stop-color="rgb(225,225,225)"/><stop offset="0.2383" stop-color="rgb(224,224,224)"/><stop offset="0.2419" stop-color="rgb(220,220,220)"/><stop offset="0.2455" stop-color="rgb(208,208,208)"/><stop offset="0.2491" stop-color="rgb(197,197,197)"/><stop offset="0.2527" stop-color="rgb(192,192,192)"/><stop offset="0.2563" stop-color="rgb(192,192,192)"/><stop offset="0.2599" stop-color="rgb(197,197,197)"/><stop offset="0.2635" stop-color="rgb(208,208,208)"/><stop offset="0.2671" stop-color="rgb(220,220,220)"/><stop offset="0.2708" stop-color="rgb(224,224,224)"/><stop offset="0.2744" stop-color="rgb(224,224,224)"/><stop offset="0.2780" stop-color="rgb(221,221,221)"/><stop offset="0.2816" stop-color="rgb(216,216,216)"/><stop offset="0.2852" stop-color="rgb(208,208,208)"/><stop offset="0.2888" stop-color="rgb(200,200,200)"/><stop offset="0.2924" stop-color="rgb(194,194,194)"/><stop offset="0.2960" stop-color="rgb(192,192,192)"/><stop offset="0.2996" stop-color="rgb(192,192,192)"/><stop offset="0.3032" stop-color="rgb(193,193,193)"/><stop offset="0.3069" stop-color="rgb(195,195,195)"/><stop offset="0.3105" stop-color="rgb(202,202,202)"/><stop offset="0.3141" stop-color="rgb(210,210,210)"/><stop offset="0.3177" stop-color="rgb(218,218,218)"/><stop offset="0.3213" stop-color="rgb(222,222,222)"/><stop offset="0.3249" stop-color="rgb(224,224,224)"/><stop offset="0.3285" stop-color="rgb(225,225,225)"/><stop offset="0.3321" stop-color="rgb(225,225,225)"/><stop offset="0.3357" stop-color="rgb(225,225,225)"/><stop offset="0.3394" stop-color="rgb(225,225,225)"/><stop offset="0.3430" stop-color="rgb(225,225,225)"/><stop offset="0.3466" stop-color="rgb(225,225,225)"/><stop offset="0.3502" stop-color="rgb(225,225,225)"/><stop offset="0.3538" stop-color="rgb(225,225,225)"/><stop offset="0.3574" stop-color="rgb(224,224,224)"/><stop offset="0.3610" stop-color="rgb(221,221,221)"/><stop offset="0.3646" stop-color="rgb(211,211,211)"/><stop offset="0.3682" stop-color="rgb(193,193,193)"/><stop offset="0.3718" stop-color="rgb(180,180,180)"/><stop offset="0.3755" stop-color="rgb(176,176,176)"/><stop offset="0.3791" stop-color="rgb(176,176,176)"/><stop offset="0.3827" stop-color="rgb(182,182,182)"/><stop offset="0.3863" stop-color="rgb(197,197,197)"/><stop offset="0.3899" stop-color="rgb(213,213,213)"/><stop offset="0.3935" stop-color="rgb(222,222,222)"/><stop offset="0.3971" stop-color="rgb(224,224,224)"/><stop offset="0.4007" stop-color="rgb(224,224,224)"/><stop offset="0.4043" stop-color="rgb(224,224,224)"/><stop offset="0.4079" stop-color="rgb(224,224,224)"/><stop offset="0.4116" stop-color="rgb(224,224,224)"/><stop offset="0.4152" stop-color="rgb(224,224,224)"/><stop offset="0.4188" stop-color="rgb(224,224,224)"/><stop offset="0.4224" stop-color="rgb(224,224,224)"/><stop offset="0.4260" stop-color="rgb(224,224,224)"/><stop offset="0.4296" stop-color="rgb(224,224,224)"/><stop offset="0.4332" stop-color="rgb(222,222,222)"/><stop offset="0.4368" stop-color="rgb(208,208,208)"/><stop offset="0.4404" stop-color="rgb(181,181,181)"/><stop offset="0.4440" stop-color="rgb(166,166,166)"/><stop offset="0.4477" stop-color="rgb(152,152,152)"/><stop offset="0.4513" stop-color="rgb(131,131,131)"/><stop offset="0.4549" stop-color="rgb(101,101,101)"/><stop offset="0.4585" stop-color="rgb(67,67,67)"/><stop offset="0.4621" stop-color="rgb(52,52,52)"/><stop offset="0.4657" stop-color="rgb(50,50,50)"/><stop offset="0.4693" stop-color="rgb(54,54,54)"/><stop offset="0.4729" stop-color="rgb(74,74,74)"/><stop offset="0.4765" stop-color="rgb(112,112,112)"/><stop offset="0.4801" stop-color="rgb(152,152,152)"/><stop offset="0.4838" stop-color="rgb(175,175,175)"/><stop offset="0.4874" stop-color="rgb(183,183,183)"/><stop offset="0.4910" stop-color="rgb(184,184,184)"/><stop offset="0.4946" stop-color="rgb(184,184,184)"/><stop offset="0.4982" stop-color="rgb(185,185,185)"/><stop offset="0.5018" stop-color="rgb(188,188,188)"/><stop offset="0.5054" stop-color="rgb(195,195,195)"/><stop offset="0.5090" stop-color="rgb(204,204,204)"/><stop offset="0.5126" stop-color="rgb(213,213,213)"/><stop offset="0.5162" stop-color="rgb(219,219,219)"/><stop offset="0.5199" stop-color="rgb(223,223,223)"/><stop offset="0.5235" stop-color="rgb(224,224,224)"/><stop offset="0.5271" stop-color="rgb(217,217,217)"/><stop offset="0.5307" stop-color="rgb(179,179,179)"/><stop offset="0.5343" stop-color="rgb(146,146,146)"/><stop offset="0.5379" stop-color="rgb(145,145,145)"/><stop offset="0.5415" stop-color="rgb(170,170,170)"/><stop offset="0.5451" stop-color="rgb(213,213,213)"/><stop offset="0.5487" stop-color="rgb(224,224,224)"/><stop offset="0.5523" stop-color="rgb(224,224,224)"/><stop offset="0.5560" stop-color="rgb(224,224,224)"/><stop offset="0.5596" stop-color="rgb(224,224,224)"/><stop offset="0.5632" stop-color="rgb(224,224,224)"/><stop offset="0.5668" stop-color="rgb(224,224,224)"/><stop offset="0.5704" stop-color="rgb(224,224,224)"/><stop offset="0.5740" stop-color="rgb(224,224,224)"/><stop offset="0.5776" stop-color="rgb(225,225,225)"/><stop offset="0.5812" stop-color="rgb(225,225,225)"/><stop offset="0.5848" stop-color="rgb(225,225,225)"/><stop offset="0.5884" stop-color="rgb(225,225,225)"/><stop offset="0.5921" stop-color="rgb(219,219,219)"/><stop offset="0.5957" stop-color="rgb(163,163,163)"/><stop offset="0.5993" stop-color="rgb(81,81,81)"/><stop offset="0.6029" stop-color="rgb(64,64,64)"/><stop offset="0.6065" stop-color="rgb(86,86,86)"/><stop offset="0.6101" stop-color="rgb(172,172,172)"/><stop offset="0.6137" stop-color="rgb(221,221,221)"/><stop offset="0.6173" stop-color="rgb(225,225,225)"/><stop offset="0.6209" stop-color="rgb(220,220,220)"/><stop offset="0.6245" stop-color="rgb(184,184,184)"/><stop offset="0.6282" stop-color="rgb(109,109,109)"/><stop offset="0.6318" stop-color="rgb(62,62,62)"/><stop offset="0.6354" stop-color="rgb(56,56,56)"/><stop offset="0.6390" stop-color="rgb(74,74,74)"/><stop offset="0.6426" stop-color="rgb(141,141,141)"/><stop offset="0.6462" stop-color="rgb(205,205,205)"/><stop offset="0.6498" stop-color="rgb(224,224,224)"/><stop offset="0.6534" stop-color="rgb(223,223,223)"/><stop offset="0.6570" stop-color="rgb(210,210,210)"/><stop offset="0.6606" stop-color="rgb(175,175,175)"/><stop offset="0.6643" stop-color="rgb(116,116,116)"/><stop offset="0.6679" stop-color="rgb(55,55,55)"/><stop offset="0.6715" stop-color="rgb(18,18,18)"/><stop offset="0.6751" stop-color="rgb(6,6,6)"/><stop offset="0.6787" stop-color="rgb(6,6,6)"/><stop offset="0.6823" stop-color="rgb(18,18,18)"/><stop offset="0.6859" stop-color="rgb(55,55,55)"/><stop offset="0.6895" stop-color="rgb(116,116,116)"/><stop offset="0.6931" stop-color="rgb(175,175,175)"/><stop offset="0.6968" stop-color="rgb(211,211,211)"/><stop offset="0.7004" stop-color="rgb(223,223,223)"/><stop offset="0.7040" stop-color="rgb(225,225,225)"/><stop offset="0.7076" stop-color="rgb(226,226,226)"/><stop offset="0.7112" stop-color="rgb(226,226,226)"/><stop offset="0.7148" stop-color="rgb(226,226,226)"/><stop offset="0.7184" stop-color="rgb(226,226,226)"/><stop offset="0.7220" stop-color="rgb(226,226,226)"/><stop offset="0.7256" stop-color="rgb(226,226,226)"/><stop offset="0.7292" stop-color="rgb(226,226,226)"/><stop offset="0.7329" stop-color="rgb(226,226,226)"/><stop offset="0.7365" stop-color="rgb(225,225,225)"/><stop offset="0.7401" stop-color="rgb(224,224,224)"/><stop offset="0.7437" stop-color="rgb(219,219,219)"/><stop offset="0.7473" stop-color="rgb(210,210,210)"/><stop offset="0.7509" stop-color="rgb(194,194,194)"/><stop offset="0.7545" stop-color="rgb(170,170,170)"/><stop offset="0.7581" stop-color="rgb(139,139,139)"/><stop offset="0.7617" stop-color="rgb(104,104,104)"/><stop offset="0.7653" stop-color="rgb(71,71,71)"/><stop offset="0.7690" stop-color="rgb(42,42,42)"/><stop offset="0.7726" stop-color="rgb(22,22,22)"/><stop offset="0.7762" stop-color="rgb(10,10,10)"/><stop offset="0.7798" stop-color="rgb(5,5,5)"/><stop offset="0.7834" stop-color="rgb(4,4,4)"/><stop offset="0.7870" stop-color="rgb(4,4,4)"/><stop offset="0.7906" stop-color="rgb(7,7,7)"/><stop offset="0.7942" stop-color="rgb(15,15,15)"/><stop offset="0.7978" stop-color="rgb(29,29,29)"/><stop offset="0.8014" stop-color="rgb(48,48,48)"/><stop offset="0.8051" stop-color="rgb(64,64,64)"/><stop offset="0.8087" stop-color="rgb(69,69,69)"/><stop offset="0.8123" stop-color="rgb(64,64,64)"/><stop offset="0.8159" stop-color="rgb(54,54,54)"/><stop offset="0.8195" stop-color="rgb(46,46,46)"/><stop offset="0.8231" stop-color="rgb(44,44,44)"/><stop offset="0.8267" stop-color="rgb(45,45,45)"/><stop offset="0.8303" stop-color="rgb(48,48,48)"/><stop offset="0.8339" stop-color="rgb(57,57,57)"/><stop offset="0.8375" stop-color="rgb(78,78,78)"/><stop offset="0.8412" stop-color="rgb(110,110,110)"/><stop offset="0.8448" stop-color="rgb(147,147,147)"/><stop offset="0.8484" stop-color="rgb(181,181,181)"/><stop offset="0.8520" stop-color="rgb(204,204,204)"/><stop offset="0.8556" stop-color="rgb(215,215,215)"/><stop offset="0.8592" stop-color="rgb(216,216,216)"/><stop offset="0.8628" stop-color="rgb(213,213,213)"/><stop offset="0.8664" stop-color="rgb(208,208,208)"/><stop offset="0.8700" stop-color="rgb(204,204,204)"/><stop offset="0.8736" stop-color="rgb(201,201,201)"/><stop offset="0.8773" stop-color="rgb(200,200,200)"/><stop offset="0.8809" stop-color="rgb(200,200,200)"/><stop offset="0.8845" stop-color="rgb(200,200,200)"/><stop offset="0.8881" stop-color="rgb(201,201,201)"/><stop offset="0.8917" stop-color="rgb(204,204,204)"/><stop offset="0.8953" stop-color="rgb(208,208,208)"/><stop offset="0.8989" stop-color="rgb(213,213,213)"/><stop offset="0.9025" stop-color="rgb(218,218,218)"/><stop offset="0.9061" stop-color="rgb(222,222,222)"/><stop offset="0.9097" stop-color="rgb(224,224,224)"/><stop offset="0.9134" stop-color="rgb(225,225,225)"/><stop offset="0.9170" stop-color="rgb(224,224,224)"/><stop offset="0.9206" stop-color="rgb(216,216,216)"/><stop offset="0.9242" stop-color="rgb(200,200,200)"/><stop offset="0.9278" stop-color="rgb(178,178,178)"/><stop offset="0.9314" stop-color="rgb(161,161,161)"/><stop offset="0.9350" stop-color="rgb(153,153,153)"/><stop offset="0.9386" stop-color="rgb(152,152,152)"/><stop offset="0.9422" stop-color="rgb(153,153,153)"/><stop offset="0.9458" stop-color="rgb(162,162,162)"/><stop offset="0.9495" stop-color="rgb(180,180,180)"/><stop offset="0.9531" stop-color="rgb(202,202,202)"/><stop offset="0.9567" stop-color="rgb(218,218,218)"/><stop offset="0.9603" stop-color="rgb(219,219,219)"/><stop offset="0.9639" stop-color="rgb(216,216,216)"/><stop offset="0.9675" stop-color="rgb(221,221,221)"/><stop offset="0.9711" stop-color="rgb(226,226,226)"/><stop offset="0.9747" stop-color="rgb(226,226,226)"/><stop offset="0.9783" stop-color="rgb(221,221,221)"/><stop offset="0.9819" stop-color="rgb(216,216,216)"/><stop offset="0.9856" stop-color="rgb(221,221,221)"/><stop offset="0.9892" stop-color="rgb(226,226,226)"/><stop offset="0.9928" stop-color="rgb(226,226,226)"/><stop offset="0.9964" stop-color="rgb(226,226,226)"/><stop offset="1.0000" stop-color="rgb(226,226,226)"/></linearGradient><linearGradient id="s4" x1="0" y1="0" x2="0" y2="1"><stop offset="0.0000" stop-color="rgb(192,192,192)"/><stop offset="0.0036" stop-color="rgb(194,194,194)"/><stop offset="0.0072" stop-color="rgb(192,192,192)"/><stop offset="0.0108" stop-color="rgb(181,181,181)"/><stop offset="0.0144" stop-color="rgb(170,170,170)"/><stop offset="0.0181" stop-color="rgb(168,168,168)"/><stop offset="0.0217" stop-color="rgb(170,170,170)"/><stop offset="0.0253" stop-color="rgb(181,181,181)"/><stop offset="0.0289" stop-color="rgb(198,198,198)"/><stop offset="0.0325" stop-color="rgb(207,207,207)"/><stop offset="0.0361" stop-color="rgb(206,206,206)"/><stop offset="0.0397" stop-color="rgb(197,197,197)"/><stop offset="0.0433" stop-color="rgb(161,161,161)"/><stop offset="0.0469" stop-color="rgb(94,94,94)"/><stop offset="0.0505" stop-color="rgb(36,36,36)"/><stop offset="0.0542" stop-color="rgb(15,15,15)"/><stop offset="0.0578" stop-color="rgb(15,15,15)"/><stop offset="0.0614" stop-color="rgb(32,32,32)"/><stop offset="0.0650" stop-color="rgb(86,86,86)"/><stop offset="0.0686" stop-color="rgb(153,153,153)"/><stop offset="0.0722" stop-color="rgb(190,190,190)"/><stop offset="0.0758" stop-color="rgb(199,199,199)"/><stop offset="0.0794" stop-color="rgb(200,200,200)"/><stop offset="0.0830" stop-color="rgb(200,200,200)"/><stop offset="0.0866" stop-color="rgb(199,199,199)"/><stop offset="0.0903" stop-color="rgb(199,199,199)"/><stop offset="0.0939" stop-color="rgb(198,198,198)"/><stop offset="0.0975" stop-color="rgb(197,197,197)"/><stop offset="0.1011" stop-color="rgb(192,192,192)"/><stop offset="0.1047" stop-color="rgb(180,180,180)"/><stop offset="0.1083" stop-color="rgb(165,165,165)"/><stop offset="0.1119" stop-color="rgb(152,152,152)"/><stop offset="0.1155" stop-color="rgb(145,145,145)"/><stop offset="0.1191" stop-color="rgb(144,144,144)"/><stop offset="0.1227" stop-color="rgb(144,144,144)"/><stop offset="0.1264" stop-color="rgb(149,149,149)"/><stop offset="0.1300" stop-color="rgb(160,160,160)"/><stop offset="0.1336" stop-color="rgb(175,175,175)"/><stop offset="0.1372" stop-color="rgb(186,186,186)"/><stop offset="0.1408" stop-color="rgb(192,192,192)"/><stop offset="0.1444" stop-color="rgb(193,193,193)"/><stop offset="0.1480" stop-color="rgb(193,193,193)"/><stop offset="0.1516" stop-color="rgb(192,192,192)"/><stop offset="0.1552" stop-color="rgb(192,192,192)"/><stop offset="0.1588" stop-color="rgb(192,192,192)"/><stop offset="0.1625" stop-color="rgb(191,191,191)"/><stop offset="0.1661" stop-color="rgb(191,191,191)"/><stop offset="0.1697" stop-color="rgb(190,190,190)"/><stop offset="0.1733" stop-color="rgb(190,190,190)"/><stop offset="0.1769" stop-color="rgb(190,190,190)"/><stop offset="0.1805" stop-color="rgb(189,189,189)"/><stop offset="0.1841" stop-color="rgb(189,189,189)"/><stop offset="0.1877" stop-color="rgb(189,189,189)"/><stop offset="0.1913" stop-color="rgb(188,188,188)"/><stop offset="0.1949" stop-color="rgb(188,188,188)"/><stop offset="0.1986" stop-color="rgb(187,187,187)"/><stop offset="0.2022" stop-color="rgb(187,187,187)"/><stop offset="0.2058" stop-color="rgb(187,187,187)"/><stop offset="0.2094" stop-color="rgb(186,186,186)"/><stop offset="0.2130" stop-color="rgb(186,186,186)"/><stop offset="0.2166" stop-color="rgb(186,186,186)"/><stop offset="0.2202" stop-color="rgb(185,185,185)"/><stop offset="0.2238" stop-color="rgb(180,180,180)"/><stop offset="0.2274" stop-color="rgb(170,170,170)"/><stop offset="0.2310" stop-color="rgb(168,168,168)"/><stop offset="0.2347" stop-color="rgb(165,165,165)"/><stop offset="0.2383" stop-color="rgb(166,166,166)"/><stop offset="0.2419" stop-color="rgb(176,176,176)"/><stop offset="0.2455" stop-color="rgb(183,183,183)"/><stop offset="0.2491" stop-color="rgb(183,183,183)"/><stop offset="0.2527" stop-color="rgb(183,183,183)"/><stop offset="0.2563" stop-color="rgb(183,183,183)"/><stop offset="0.2599" stop-color="rgb(183,183,183)"/><stop offset="0.2635" stop-color="rgb(175,175,175)"/><stop offset="0.2671" stop-color="rgb(168,168,168)"/><stop offset="0.2708" stop-color="rgb(175,175,175)"/><stop offset="0.2744" stop-color="rgb(182,182,182)"/><stop offset="0.2780" stop-color="rgb(182,182,182)"/><stop offset="0.2816" stop-color="rgb(182,182,182)"/><stop offset="0.2852" stop-color="rgb(181,181,181)"/><stop offset="0.2888" stop-color="rgb(181,181,181)"/><stop offset="0.2924" stop-color="rgb(181,181,181)"/><stop offset="0.2960" stop-color="rgb(181,181,181)"/><stop offset="0.2996" stop-color="rgb(181,181,181)"/><stop offset="0.3032" stop-color="rgb(177,177,177)"/><stop offset="0.3069" stop-color="rgb(163,163,163)"/><stop offset="0.3105" stop-color="rgb(160,160,160)"/><stop offset="0.3141" stop-color="rgb(170,170,170)"/><stop offset="0.3177" stop-color="rgb(179,179,179)"/><stop offset="0.3213" stop-color="rgb(180,180,180)"/><stop offset="0.3249" stop-color="rgb(179,179,179)"/><stop offset="0.3285" stop-color="rgb(179,179,179)"/><stop offset="0.3321" stop-color="rgb(179,179,179)"/><stop offset="0.3357" stop-color="rgb(179,179,179)"/><stop offset="0.3394" stop-color="rgb(179,179,179)"/><stop offset="0.3430" stop-color="rgb(178,178,178)"/><stop offset="0.3466" stop-color="rgb(174,174,174)"/><stop offset="0.3502" stop-color="rgb(148,148,148)"/><stop offset="0.3538" stop-color="rgb(136,136,136)"/><stop offset="0.3574" stop-color="rgb(141,141,141)"/><stop offset="0.3610" stop-color="rgb(168,168,168)"/><stop offset="0.3646" stop-color="rgb(177,177,177)"/><stop offset="0.3682" stop-color="rgb(177,177,177)"/><stop offset="0.3718" stop-color="rgb(172,172,172)"/><stop offset="0.3755" stop-color="rgb(149,149,149)"/><stop offset="0.3791" stop-color="rgb(140,140,140)"/><stop offset="0.3827" stop-color="rgb(145,145,145)"/><stop offset="0.3863" stop-color="rgb(167,167,167)"/><stop offset="0.3899" stop-color="rgb(176,176,176)"/><stop offset="0.3935" stop-color="rgb(176,176,176)"/><stop offset="0.3971" stop-color="rgb(176,176,176)"/><stop offset="0.4007" stop-color="rgb(176,176,176)"/><stop offset="0.4043" stop-color="rgb(176,176,176)"/><stop offset="0.4079" stop-color="rgb(176,176,176)"/><stop offset="0.4116" stop-color="rgb(176,176,176)"/><stop offset="0.4152" stop-color="rgb(176,176,176)"/><stop offset="0.4188" stop-color="rgb(176,176,176)"/><stop offset="0.4224" stop-color="rgb(176,176,176)"/><stop offset="0.4260" stop-color="rgb(175,175,175)"/><stop offset="0.4296" stop-color="rgb(172,172,172)"/><stop offset="0.4332" stop-color="rgb(164,164,164)"/><stop offset="0.4368" stop-color="rgb(148,148,148)"/><stop offset="0.4404" stop-color="rgb(125,125,125)"/><stop offset="0.4440" stop-color="rgb(99,99,99)"/><stop offset="0.4477" stop-color="rgb(76,76,76)"/><stop offset="0.4513" stop-color="rgb(61,61,61)"/><stop offset="0.4549" stop-color="rgb(54,54,54)"/><stop offset="0.4585" stop-color="rgb(52,52,52)"/><stop offset="0.4621" stop-color="rgb(52,52,52)"/><stop offset="0.4657" stop-color="rgb(56,56,56)"/><stop offset="0.4693" stop-color="rgb(66,66,66)"/><stop offset="0.4729" stop-color="rgb(85,85,85)"/><stop offset="0.4765" stop-color="rgb(110,110,110)"/><stop offset="0.4801" stop-color="rgb(138,138,138)"/><stop offset="0.4838" stop-color="rgb(161,161,161)"/><stop offset="0.4874" stop-color="rgb(176,176,176)"/><stop offset="0.4910" stop-color="rgb(184,184,184)"/><stop offset="0.4946" stop-color="rgb(187,187,187)"/><stop offset="0.4982" stop-color="rgb(188,188,188)"/><stop offset="0.5018" stop-color="rgb(189,189,189)"/><stop offset="0.5054" stop-color="rgb(190,190,190)"/><stop offset="0.5090" stop-color="rgb(190,190,190)"/><stop offset="0.5126" stop-color="rgb(191,191,191)"/><stop offset="0.5162" stop-color="rgb(191,191,191)"/><stop offset="0.5199" stop-color="rgb(189,189,189)"/><stop offset="0.5235" stop-color="rgb(163,163,163)"/><stop offset="0.5271" stop-color="rgb(116,116,116)"/><stop offset="0.5307" stop-color="rgb(96,96,96)"/><stop offset="0.5343" stop-color="rgb(98,98,98)"/><stop offset="0.5379" stop-color="rgb(129,129,129)"/><stop offset="0.5415" stop-color="rgb(175,175,175)"/><stop offset="0.5451" stop-color="rgb(190,190,190)"/><stop offset="0.5487" stop-color="rgb(191,191,191)"/><stop offset="0.5523" stop-color="rgb(191,191,191)"/><stop offset="0.5560" stop-color="rgb(191,191,191)"/><stop offset="0.5596" stop-color="rgb(191,191,191)"/><stop offset="0.5632" stop-color="rgb(191,191,191)"/><stop offset="0.5668" stop-color="rgb(191,191,191)"/><stop offset="0.5704" stop-color="rgb(191,191,191)"/><stop offset="0.5740" stop-color="rgb(191,191,191)"/><stop offset="0.5776" stop-color="rgb(191,191,191)"/><stop offset="0.5812" stop-color="rgb(190,190,190)"/><stop offset="0.5848" stop-color="rgb(183,183,183)"/><stop offset="0.5884" stop-color="rgb(140,140,140)"/><stop offset="0.5921" stop-color="rgb(82,82,82)"/><stop offset="0.5957" stop-color="rgb(64,64,64)"/><stop offset="0.5993" stop-color="rgb(69,69,69)"/><stop offset="0.6029" stop-color="rgb(114,114,114)"/><stop offset="0.6065" stop-color="rgb(171,171,171)"/><stop offset="0.6101" stop-color="rgb(188,188,188)"/><stop offset="0.6137" stop-color="rgb(174,174,174)"/><stop offset="0.6173" stop-color="rgb(134,134,134)"/><stop offset="0.6209" stop-color="rgb(88,88,88)"/><stop offset="0.6245" stop-color="rgb(66,66,66)"/><stop offset="0.6282" stop-color="rgb(64,64,64)"/><stop offset="0.6318" stop-color="rgb(71,71,71)"/><stop offset="0.6354" stop-color="rgb(104,104,104)"/><stop offset="0.6390" stop-color="rgb(153,153,153)"/><stop offset="0.6426" stop-color="rgb(181,181,181)"/><stop offset="0.6462" stop-color="rgb(170,170,170)"/><stop offset="0.6498" stop-color="rgb(133,133,133)"/><stop offset="0.6534" stop-color="rgb(88,88,88)"/><stop offset="0.6570" stop-color="rgb(49,49,49)"/><stop offset="0.6606" stop-color="rgb(25,25,25)"/><stop offset="0.6643" stop-color="rgb(15,15,15)"/><stop offset="0.6679" stop-color="rgb(14,14,14)"/><stop offset="0.6715" stop-color="rgb(16,16,16)"/><stop offset="0.6751" stop-color="rgb(26,26,26)"/><stop offset="0.6787" stop-color="rgb(52,52,52)"/><stop offset="0.6823" stop-color="rgb(90,90,90)"/><stop offset="0.6859" stop-color="rgb(133,133,133)"/><stop offset="0.6895" stop-color="rgb(168,168,168)"/><stop offset="0.6931" stop-color="rgb(188,188,188)"/><stop offset="0.6968" stop-color="rgb(196,196,196)"/><stop offset="0.7004" stop-color="rgb(198,198,198)"/><stop offset="0.7040" stop-color="rgb(198,198,198)"/><stop offset="0.7076" stop-color="rgb(197,197,197)"/><stop offset="0.7112" stop-color="rgb(196,196,196)"/><stop offset="0.7148" stop-color="rgb(196,196,196)"/><stop offset="0.7184" stop-color="rgb(194,194,194)"/><stop offset="0.7220" stop-color="rgb(192,192,192)"/><stop offset="0.7256" stop-color="rgb(188,188,188)"/><stop offset="0.7292" stop-color="rgb(181,181,181)"/><stop offset="0.7329" stop-color="rgb(170,170,170)"/><stop offset="0.7365" stop-color="rgb(154,154,154)"/><stop offset="0.7401" stop-color="rgb(134,134,134)"/><stop offset="0.7437" stop-color="rgb(111,111,111)"/><stop offset="0.7473" stop-color="rgb(88,88,88)"/><stop offset="0.7509" stop-color="rgb(67,67,67)"/><stop offset="0.7545" stop-color="rgb(51,51,51)"/><stop offset="0.7581" stop-color="rgb(39,39,39)"/><stop offset="0.7617" stop-color="rgb(33,33,33)"/><stop offset="0.7653" stop-color="rgb(30,30,30)"/><stop offset="0.7690" stop-color="rgb(30,30,30)"/><stop offset="0.7726" stop-color="rgb(30,30,30)"/><stop offset="0.7762" stop-color="rgb(32,32,32)"/><stop offset="0.7798" stop-color="rgb(37,37,37)"/><stop offset="0.7834" stop-color="rgb(47,47,47)"/><stop offset="0.7870" stop-color="rgb(63,63,63)"/><stop offset="0.7906" stop-color="rgb(83,83,83)"/><stop offset="0.7942" stop-color="rgb(107,107,107)"/><stop offset="0.7978" stop-color="rgb(131,131,131)"/><stop offset="0.8014" stop-color="rgb(145,145,145)"/><stop offset="0.8051" stop-color="rgb(133,133,133)"/><stop offset="0.8087" stop-color="rgb(133,133,133)"/><stop offset="0.8123" stop-color="rgb(149,149,149)"/><stop offset="0.8159" stop-color="rgb(187,187,187)"/><stop offset="0.8195" stop-color="rgb(200,200,200)"/><stop offset="0.8231" stop-color="rgb(201,201,201)"/><stop offset="0.8267" stop-color="rgb(202,202,202)"/><stop offset="0.8303" stop-color="rgb(202,202,202)"/><stop offset="0.8339" stop-color="rgb(202,202,202)"/><stop offset="0.8375" stop-color="rgb(201,201,201)"/><stop offset="0.8412" stop-color="rgb(200,200,200)"/><stop offset="0.8448" stop-color="rgb(199,199,199)"/><stop offset="0.8484" stop-color="rgb(196,196,196)"/><stop offset="0.8520" stop-color="rgb(192,192,192)"/><stop offset="0.8556" stop-color="rgb(185,185,185)"/><stop offset="0.8592" stop-color="rgb(172,172,172)"/><stop offset="0.8628" stop-color="rgb(148,148,148)"/><stop offset="0.8664" stop-color="rgb(122,122,122)"/><stop offset="0.8700" stop-color="rgb(107,107,107)"/><stop offset="0.8736" stop-color="rgb(95,95,95)"/><stop offset="0.8773" stop-color="rgb(90,90,90)"/><stop offset="0.8809" stop-color="rgb(83,83,83)"/><stop offset="0.8845" stop-color="rgb(71,71,71)"/><stop offset="0.8881" stop-color="rgb(61,61,61)"/><stop offset="0.8917" stop-color="rgb(54,54,54)"/><stop offset="0.8953" stop-color="rgb(50,50,50)"/><stop offset="0.8989" stop-color="rgb(47,47,47)"/><stop offset="0.9025" stop-color="rgb(46,46,46)"/><stop offset="0.9061" stop-color="rgb(46,46,46)"/><stop offset="0.9097" stop-color="rgb(46,46,46)"/><stop offset="0.9134" stop-color="rgb(47,47,47)"/><stop offset="0.9170" stop-color="rgb(49,49,49)"/><stop offset="0.9206" stop-color="rgb(54,54,54)"/><stop offset="0.9242" stop-color="rgb(61,61,61)"/><stop offset="0.9278" stop-color="rgb(71,71,71)"/><stop offset="0.9314" stop-color="rgb(83,83,83)"/><stop offset="0.9350" stop-color="rgb(98,98,98)"/><stop offset="0.9386" stop-color="rgb(114,114,114)"/><stop offset="0.9422" stop-color="rgb(130,130,130)"/><stop offset="0.9458" stop-color="rgb(146,146,146)"/><stop offset="0.9495" stop-color="rgb(160,160,160)"/><stop offset="0.9531" stop-color="rgb(171,171,171)"/><stop offset="0.9567" stop-color="rgb(179,179,179)"/><stop offset="0.9603" stop-color="rgb(185,185,185)"/><stop offset="0.9639" stop-color="rgb(189,189,189)"/><stop offset="0.9675" stop-color="rgb(191,191,191)"/><stop offset="0.9711" stop-color="rgb(193,193,193)"/><stop offset="0.9747" stop-color="rgb(193,193,193)"/><stop offset="0.9783" stop-color="rgb(193,193,193)"/><stop offset="0.9819" stop-color="rgb(193,193,193)"/><stop offset="0.9856" stop-color="rgb(193,193,193)"/><stop offset="0.9892" stop-color="rgb(193,193,193)"/><stop offset="0.9928" stop-color="rgb(192,192,192)"/><stop offset="0.9964" stop-color="rgb(192,192,192)"/><stop offset="1.0000" stop-color="rgb(192,192,192)"/></linearGradient><linearGradient id="s5" x1="0" y1="0" x2="0" y2="1"><stop offset="0.0000" stop-color="rgb(189,189,189)"/><stop offset="0.0036" stop-color="rgb(182,182,182)"/><stop offset="0.0072" stop-color="rgb(177,177,177)"/><stop offset="0.0108" stop-color="rgb(175,175,175)"/><stop offset="0.0144" stop-color="rgb(175,175,175)"/><stop offset="0.0181" stop-color="rgb(177,177,177)"/><stop offset="0.0217" stop-color="rgb(179,179,179)"/><stop offset="0.0253" stop-color="rgb(184,184,184)"/><stop offset="0.0289" stop-color="rgb(193,193,193)"/><stop offset="0.0325" stop-color="rgb(203,203,203)"/><stop offset="0.0361" stop-color="rgb(209,209,209)"/><stop offset="0.0397" stop-color="rgb(213,213,213)"/><stop offset="0.0433" stop-color="rgb(213,213,213)"/><stop offset="0.0469" stop-color="rgb(211,211,211)"/><stop offset="0.0505" stop-color="rgb(208,208,208)"/><stop offset="0.0542" stop-color="rgb(208,208,208)"/><stop offset="0.0578" stop-color="rgb(208,208,208)"/><stop offset="0.0614" stop-color="rgb(208,208,208)"/><stop offset="0.0650" stop-color="rgb(208,208,208)"/><stop offset="0.0686" stop-color="rgb(208,208,208)"/><stop offset="0.0722" stop-color="rgb(208,208,208)"/><stop offset="0.0758" stop-color="rgb(208,208,208)"/><stop offset="0.0794" stop-color="rgb(208,208,208)"/><stop offset="0.0830" stop-color="rgb(207,207,207)"/><stop offset="0.0866" stop-color="rgb(207,207,207)"/><stop offset="0.0903" stop-color="rgb(207,207,207)"/><stop offset="0.0939" stop-color="rgb(207,207,207)"/><stop offset="0.0975" stop-color="rgb(207,207,207)"/><stop offset="0.1011" stop-color="rgb(207,207,207)"/><stop offset="0.1047" stop-color="rgb(207,207,207)"/><stop offset="0.1083" stop-color="rgb(207,207,207)"/><stop offset="0.1119" stop-color="rgb(207,207,207)"/><stop offset="0.1155" stop-color="rgb(207,207,207)"/><stop offset="0.1191" stop-color="rgb(207,207,207)"/><stop offset="0.1227" stop-color="rgb(207,207,207)"/><stop offset="0.1264" stop-color="rgb(207,207,207)"/><stop offset="0.1300" stop-color="rgb(207,207,207)"/><stop offset="0.1336" stop-color="rgb(207,207,207)"/><stop offset="0.1372" stop-color="rgb(207,207,207)"/><stop offset="0.1408" stop-color="rgb(206,206,206)"/><stop offset="0.1444" stop-color="rgb(206,206,206)"/><stop offset="0.1480" stop-color="rgb(206,206,206)"/><stop offset="0.1516" stop-color="rgb(206,206,206)"/><stop offset="0.1552" stop-color="rgb(206,206,206)"/><stop offset="0.1588" stop-color="rgb(195,195,195)"/><stop offset="0.1625" stop-color="rgb(184,184,184)"/><stop offset="0.1661" stop-color="rgb(195,195,195)"/><stop offset="0.1697" stop-color="rgb(206,206,206)"/><stop offset="0.1733" stop-color="rgb(206,206,206)"/><stop offset="0.1769" stop-color="rgb(206,206,206)"/><stop offset="0.1805" stop-color="rgb(206,206,206)"/><stop offset="0.1841" stop-color="rgb(206,206,206)"/><stop offset="0.1877" stop-color="rgb(206,206,206)"/><stop offset="0.1913" stop-color="rgb(206,206,206)"/><stop offset="0.1949" stop-color="rgb(206,206,206)"/><stop offset="0.1986" stop-color="rgb(206,206,206)"/><stop offset="0.2022" stop-color="rgb(205,205,205)"/><stop offset="0.2058" stop-color="rgb(205,205,205)"/><stop offset="0.2094" stop-color="rgb(205,205,205)"/><stop offset="0.2130" stop-color="rgb(205,205,205)"/><stop offset="0.2166" stop-color="rgb(205,205,205)"/><stop offset="0.2202" stop-color="rgb(205,205,205)"/><stop offset="0.2238" stop-color="rgb(205,205,205)"/><stop offset="0.2274" stop-color="rgb(205,205,205)"/><stop offset="0.2310" stop-color="rgb(205,205,205)"/><stop offset="0.2347" stop-color="rgb(205,205,205)"/><stop offset="0.2383" stop-color="rgb(205,205,205)"/><stop offset="0.2419" stop-color="rgb(205,205,205)"/><stop offset="0.2455" stop-color="rgb(205,205,205)"/><stop offset="0.2491" stop-color="rgb(205,205,205)"/><stop offset="0.2527" stop-color="rgb(194,194,194)"/><stop offset="0.2563" stop-color="rgb(184,184,184)"/><stop offset="0.2599" stop-color="rgb(194,194,194)"/><stop offset="0.2635" stop-color="rgb(205,205,205)"/><stop offset="0.2671" stop-color="rgb(205,205,205)"/><stop offset="0.2708" stop-color="rgb(205,205,205)"/><stop offset="0.2744" stop-color="rgb(205,205,205)"/><stop offset="0.2780" stop-color="rgb(205,205,205)"/><stop offset="0.2816" stop-color="rgb(205,205,205)"/><stop offset="0.2852" stop-color="rgb(205,205,205)"/><stop offset="0.2888" stop-color="rgb(205,205,205)"/><stop offset="0.2924" stop-color="rgb(205,205,205)"/><stop offset="0.2960" stop-color="rgb(198,198,198)"/><stop offset="0.2996" stop-color="rgb(192,192,192)"/><stop offset="0.3032" stop-color="rgb(198,198,198)"/><stop offset="0.3069" stop-color="rgb(205,205,205)"/><stop offset="0.3105" stop-color="rgb(205,205,205)"/><stop offset="0.3141" stop-color="rgb(205,205,205)"/><stop offset="0.3177" stop-color="rgb(205,205,205)"/><stop offset="0.3213" stop-color="rgb(205,205,205)"/><stop offset="0.3249" stop-color="rgb(194,194,194)"/><stop offset="0.3285" stop-color="rgb(184,184,184)"/><stop offset="0.3321" stop-color="rgb(194,194,194)"/><stop offset="0.3357" stop-color="rgb(205,205,205)"/><stop offset="0.3394" stop-color="rgb(205,205,205)"/><stop offset="0.3430" stop-color="rgb(205,205,205)"/><stop offset="0.3466" stop-color="rgb(205,205,205)"/><stop offset="0.3502" stop-color="rgb(205,205,205)"/><stop offset="0.3538" stop-color="rgb(205,205,205)"/><stop offset="0.3574" stop-color="rgb(205,205,205)"/><stop offset="0.3610" stop-color="rgb(205,205,205)"/><stop offset="0.3646" stop-color="rgb(205,205,205)"/><stop offset="0.3682" stop-color="rgb(205,205,205)"/><stop offset="0.3718" stop-color="rgb(205,205,205)"/><stop offset="0.3755" stop-color="rgb(205,205,205)"/><stop offset="0.3791" stop-color="rgb(198,198,198)"/><stop offset="0.3827" stop-color="rgb(171,171,171)"/><stop offset="0.3863" stop-color="rgb(160,160,160)"/><stop offset="0.3899" stop-color="rgb(166,166,166)"/><stop offset="0.3935" stop-color="rgb(194,194,194)"/><stop offset="0.3971" stop-color="rgb(205,205,205)"/><stop offset="0.4007" stop-color="rgb(206,206,206)"/><stop offset="0.4043" stop-color="rgb(206,206,206)"/><stop offset="0.4079" stop-color="rgb(206,206,206)"/><stop offset="0.4116" stop-color="rgb(206,206,206)"/><stop offset="0.4152" stop-color="rgb(206,206,206)"/><stop offset="0.4188" stop-color="rgb(206,206,206)"/><stop offset="0.4224" stop-color="rgb(206,206,206)"/><stop offset="0.4260" stop-color="rgb(206,206,206)"/><stop offset="0.4296" stop-color="rgb(206,206,206)"/><stop offset="0.4332" stop-color="rgb(206,206,206)"/><stop offset="0.4368" stop-color="rgb(203,203,203)"/><stop offset="0.4404" stop-color="rgb(194,194,194)"/><stop offset="0.4440" stop-color="rgb(173,173,173)"/><stop offset="0.4477" stop-color="rgb(141,141,141)"/><stop offset="0.4513" stop-color="rgb(104,104,104)"/><stop offset="0.4549" stop-color="rgb(73,73,73)"/><stop offset="0.4585" stop-color="rgb(54,54,54)"/><stop offset="0.4621" stop-color="rgb(47,47,47)"/><stop offset="0.4657" stop-color="rgb(46,46,46)"/><stop offset="0.4693" stop-color="rgb(48,48,48)"/><stop offset="0.4729" stop-color="rgb(58,58,58)"/><stop offset="0.4765" stop-color="rgb(81,81,81)"/><stop offset="0.4801" stop-color="rgb(115,115,115)"/><stop offset="0.4838" stop-color="rgb(152,152,152)"/><stop offset="0.4874" stop-color="rgb(181,181,181)"/><stop offset="0.4910" stop-color="rgb(198,198,198)"/><stop offset="0.4946" stop-color="rgb(205,205,205)"/><stop offset="0.4982" stop-color="rgb(207,207,207)"/><stop offset="0.5018" stop-color="rgb(208,208,208)"/><stop offset="0.5054" stop-color="rgb(208,208,208)"/><stop offset="0.5090" stop-color="rgb(208,208,208)"/><stop offset="0.5126" stop-color="rgb(208,208,208)"/><stop offset="0.5162" stop-color="rgb(208,208,208)"/><stop offset="0.5199" stop-color="rgb(208,208,208)"/><stop offset="0.5235" stop-color="rgb(203,203,203)"/><stop offset="0.5271" stop-color="rgb(175,175,175)"/><stop offset="0.5307" stop-color="rgb(128,128,128)"/><stop offset="0.5343" stop-color="rgb(105,105,105)"/><stop offset="0.5379" stop-color="rgb(104,104,104)"/><stop offset="0.5415" stop-color="rgb(121,121,121)"/><stop offset="0.5451" stop-color="rgb(166,166,166)"/><stop offset="0.5487" stop-color="rgb(201,201,201)"/><stop offset="0.5523" stop-color="rgb(209,209,209)"/><stop offset="0.5560" stop-color="rgb(210,210,210)"/><stop offset="0.5596" stop-color="rgb(210,210,210)"/><stop offset="0.5632" stop-color="rgb(210,210,210)"/><stop offset="0.5668" stop-color="rgb(210,210,210)"/><stop offset="0.5704" stop-color="rgb(210,210,210)"/><stop offset="0.5740" stop-color="rgb(210,210,210)"/><stop offset="0.5776" stop-color="rgb(211,211,211)"/><stop offset="0.5812" stop-color="rgb(211,211,211)"/><stop offset="0.5848" stop-color="rgb(211,211,211)"/><stop offset="0.5884" stop-color="rgb(211,211,211)"/><stop offset="0.5921" stop-color="rgb(211,211,211)"/><stop offset="0.5957" stop-color="rgb(211,211,211)"/><stop offset="0.5993" stop-color="rgb(209,209,209)"/><stop offset="0.6029" stop-color="rgb(185,185,185)"/><stop offset="0.6065" stop-color="rgb(176,176,176)"/><stop offset="0.6101" stop-color="rgb(191,191,191)"/><stop offset="0.6137" stop-color="rgb(211,211,211)"/><stop offset="0.6173" stop-color="rgb(212,212,212)"/><stop offset="0.6209" stop-color="rgb(208,208,208)"/><stop offset="0.6245" stop-color="rgb(191,191,191)"/><stop offset="0.6282" stop-color="rgb(151,151,151)"/><stop offset="0.6318" stop-color="rgb(107,107,107)"/><stop offset="0.6354" stop-color="rgb(84,84,84)"/><stop offset="0.6390" stop-color="rgb(80,80,80)"/><stop offset="0.6426" stop-color="rgb(83,83,83)"/><stop offset="0.6462" stop-color="rgb(104,104,104)"/><stop offset="0.6498" stop-color="rgb(147,147,147)"/><stop offset="0.6534" stop-color="rgb(189,189,189)"/><stop offset="0.6570" stop-color="rgb(209,209,209)"/><stop offset="0.6606" stop-color="rgb(214,214,214)"/><stop offset="0.6643" stop-color="rgb(210,210,210)"/><stop offset="0.6679" stop-color="rgb(188,188,188)"/><stop offset="0.6715" stop-color="rgb(135,135,135)"/><stop offset="0.6751" stop-color="rgb(81,81,81)"/><stop offset="0.6787" stop-color="rgb(58,58,58)"/><stop offset="0.6823" stop-color="rgb(56,56,56)"/><stop offset="0.6859" stop-color="rgb(68,68,68)"/><stop offset="0.6895" stop-color="rgb(112,112,112)"/><stop offset="0.6931" stop-color="rgb(171,171,171)"/><stop offset="0.6968" stop-color="rgb(206,206,206)"/><stop offset="0.7004" stop-color="rgb(215,215,215)"/><stop offset="0.7040" stop-color="rgb(216,216,216)"/><stop offset="0.7076" stop-color="rgb(216,216,216)"/><stop offset="0.7112" stop-color="rgb(216,216,216)"/><stop offset="0.7148" stop-color="rgb(216,216,216)"/><stop offset="0.7184" stop-color="rgb(216,216,216)"/><stop offset="0.7220" stop-color="rgb(215,215,215)"/><stop offset="0.7256" stop-color="rgb(215,215,215)"/><stop offset="0.7292" stop-color="rgb(215,215,215)"/><stop offset="0.7329" stop-color="rgb(215,215,215)"/><stop offset="0.7365" stop-color="rgb(215,215,215)"/><stop offset="0.7401" stop-color="rgb(214,214,214)"/><stop offset="0.7437" stop-color="rgb(213,213,213)"/><stop offset="0.7473" stop-color="rgb(210,210,210)"/><stop offset="0.7509" stop-color="rgb(204,204,204)"/><stop offset="0.7545" stop-color="rgb(192,192,192)"/><stop offset="0.7581" stop-color="rgb(174,174,174)"/><stop offset="0.7617" stop-color="rgb(150,150,150)"/><stop offset="0.7653" stop-color="rgb(122,122,122)"/><stop offset="0.7690" stop-color="rgb(94,94,94)"/><stop offset="0.7726" stop-color="rgb(69,69,69)"/><stop offset="0.7762" stop-color="rgb(50,50,50)"/><stop offset="0.7798" stop-color="rgb(38,38,38)"/><stop offset="0.7834" stop-color="rgb(32,32,32)"/><stop offset="0.7870" stop-color="rgb(30,30,30)"/><stop offset="0.7906" stop-color="rgb(30,30,30)"/><stop offset="0.7942" stop-color="rgb(31,31,31)"/><stop offset="0.7978" stop-color="rgb(35,35,35)"/><stop offset="0.8014" stop-color="rgb(46,46,46)"/><stop offset="0.8051" stop-color="rgb(62,62,62)"/><stop offset="0.8087" stop-color="rgb(85,85,85)"/><stop offset="0.8123" stop-color="rgb(113,113,113)"/><stop offset="0.8159" stop-color="rgb(141,141,141)"/><stop offset="0.8195" stop-color="rgb(166,166,166)"/><stop offset="0.8231" stop-color="rgb(186,186,186)"/><stop offset="0.8267" stop-color="rgb(199,199,199)"/><stop offset="0.8303" stop-color="rgb(201,201,201)"/><stop offset="0.8339" stop-color="rgb(198,198,198)"/><stop offset="0.8375" stop-color="rgb(205,205,205)"/><stop offset="0.8412" stop-color="rgb(212,212,212)"/><stop offset="0.8448" stop-color="rgb(212,212,212)"/><stop offset="0.8484" stop-color="rgb(212,212,212)"/><stop offset="0.8520" stop-color="rgb(212,212,212)"/><stop offset="0.8556" stop-color="rgb(212,212,212)"/><stop offset="0.8592" stop-color="rgb(212,212,212)"/><stop offset="0.8628" stop-color="rgb(212,212,212)"/><stop offset="0.8664" stop-color="rgb(212,212,212)"/><stop offset="0.8700" stop-color="rgb(211,211,211)"/><stop offset="0.8736" stop-color="rgb(211,211,211)"/><stop offset="0.8773" stop-color="rgb(210,210,210)"/><stop offset="0.8809" stop-color="rgb(208,208,208)"/><stop offset="0.8845" stop-color="rgb(202,202,202)"/><stop offset="0.8881" stop-color="rgb(192,192,192)"/><stop offset="0.8917" stop-color="rgb(176,176,176)"/><stop offset="0.8953" stop-color="rgb(155,155,155)"/><stop offset="0.8989" stop-color="rgb(132,132,132)"/><stop offset="0.9025" stop-color="rgb(110,110,110)"/><stop offset="0.9061" stop-color="rgb(93,93,93)"/><stop offset="0.9097" stop-color="rgb(81,81,81)"/><stop offset="0.9134" stop-color="rgb(74,74,74)"/><stop offset="0.9170" stop-color="rgb(72,72,72)"/><stop offset="0.9206" stop-color="rgb(72,72,72)"/><stop offset="0.9242" stop-color="rgb(73,73,73)"/><stop offset="0.9278" stop-color="rgb(76,76,76)"/><stop offset="0.9314" stop-color="rgb(84,84,84)"/><stop offset="0.9350" stop-color="rgb(99,99,99)"/><stop offset="0.9386" stop-color="rgb(118,118,118)"/><stop offset="0.9422" stop-color="rgb(141,141,141)"/><stop offset="0.9458" stop-color="rgb(163,163,163)"/><stop offset="0.9495" stop-color="rgb(182,182,182)"/><stop offset="0.9531" stop-color="rgb(195,195,195)"/><stop offset="0.9567" stop-color="rgb(203,203,203)"/><stop offset="0.9603" stop-color="rgb(207,207,207)"/><stop offset="0.9639" stop-color="rgb(208,208,208)"/><stop offset="0.9675" stop-color="rgb(209,209,209)"/><stop offset="0.9711" stop-color="rgb(209,209,209)"/><stop offset="0.9747" stop-color="rgb(209,209,209)"/><stop offset="0.9783" stop-color="rgb(209,209,209)"/><stop offset="0.9819" stop-color="rgb(208,208,208)"/><stop offset="0.9856" stop-color="rgb(208,208,208)"/><stop offset="0.9892" stop-color="rgb(208,208,208)"/><stop offset="0.9928" stop-color="rgb(208,208,208)"/><stop offset="0.9964" stop-color="rgb(208,208,208)"/><stop offset="1.0000" stop-color="rgb(208,208,208)"/></linearGradient><linearGradient id="s6" x1="0" y1="0" x2="0" y2="1"><stop offset="0.0000" stop-color="rgb(226,226,226)"/><stop offset="0.0036" stop-color="rgb(226,226,226)"/><stop offset="0.0072" stop-color="rgb(222,222,222)"/><stop offset="0.0108" stop-color="rgb(206,206,206)"/><stop offset="0.0144" stop-color="rgb(183,183,183)"/><stop offset="0.0181" stop-color="rgb(170,170,170)"/><stop offset="0.0217" stop-color="rgb(168,168,168)"/><stop offset="0.0253" stop-color="rgb(171,171,171)"/><stop offset="0.0289" stop-color="rgb(188,188,188)"/><stop offset="0.0325" stop-color="rgb(211,211,211)"/><stop offset="0.0361" stop-color="rgb(223,223,223)"/><stop offset="0.0397" stop-color="rgb(226,226,226)"/><stop offset="0.0433" stop-color="rgb(226,226,226)"/><stop offset="0.0469" stop-color="rgb(226,226,226)"/><stop offset="0.0505" stop-color="rgb(226,226,226)"/><stop offset="0.0542" stop-color="rgb(226,226,226)"/><stop offset="0.0578" stop-color="rgb(221,221,221)"/><stop offset="0.0614" stop-color="rgb(216,216,216)"/><stop offset="0.0650" stop-color="rgb(221,221,221)"/><stop offset="0.0686" stop-color="rgb(226,226,226)"/><stop offset="0.0722" stop-color="rgb(226,226,226)"/><stop offset="0.0758" stop-color="rgb(226,226,226)"/><stop offset="0.0794" stop-color="rgb(226,226,226)"/><stop offset="0.0830" stop-color="rgb(226,226,226)"/><stop offset="0.0866" stop-color="rgb(213,213,213)"/><stop offset="0.0903" stop-color="rgb(201,201,201)"/><stop offset="0.0939" stop-color="rgb(225,225,225)"/><stop offset="0.0975" stop-color="rgb(226,226,226)"/><stop offset="0.1011" stop-color="rgb(226,226,226)"/><stop offset="0.1047" stop-color="rgb(226,226,226)"/><stop offset="0.1083" stop-color="rgb(226,226,226)"/><stop offset="0.1119" stop-color="rgb(226,226,226)"/><stop offset="0.1155" stop-color="rgb(226,226,226)"/><stop offset="0.1191" stop-color="rgb(226,226,226)"/><stop offset="0.1227" stop-color="rgb(226,226,226)"/><stop offset="0.1264" stop-color="rgb(226,226,226)"/><stop offset="0.1300" stop-color="rgb(226,226,226)"/><stop offset="0.1336" stop-color="rgb(226,226,226)"/><stop offset="0.1372" stop-color="rgb(226,226,226)"/><stop offset="0.1408" stop-color="rgb(185,185,185)"/><stop offset="0.1444" stop-color="rgb(146,146,146)"/><stop offset="0.1480" stop-color="rgb(223,223,223)"/><stop offset="0.1516" stop-color="rgb(226,226,226)"/><stop offset="0.1552" stop-color="rgb(226,226,226)"/><stop offset="0.1588" stop-color="rgb(226,226,226)"/><stop offset="0.1625" stop-color="rgb(226,226,226)"/><stop offset="0.1661" stop-color="rgb(226,226,226)"/><stop offset="0.1697" stop-color="rgb(226,226,226)"/><stop offset="0.1733" stop-color="rgb(208,208,208)"/><stop offset="0.1769" stop-color="rgb(217,217,217)"/><stop offset="0.1805" stop-color="rgb(226,226,226)"/><stop offset="0.1841" stop-color="rgb(226,226,226)"/><stop offset="0.1877" stop-color="rgb(226,226,226)"/><stop offset="0.1913" stop-color="rgb(216,216,216)"/><stop offset="0.1949" stop-color="rgb(221,221,221)"/><stop offset="0.1986" stop-color="rgb(226,226,226)"/><stop offset="0.2022" stop-color="rgb(226,226,226)"/><stop offset="0.2058" stop-color="rgb(226,226,226)"/><stop offset="0.2094" stop-color="rgb(226,226,226)"/><stop offset="0.2130" stop-color="rgb(226,226,226)"/><stop offset="0.2166" stop-color="rgb(226,226,226)"/><stop offset="0.2202" stop-color="rgb(226,226,226)"/><stop offset="0.2238" stop-color="rgb(226,226,226)"/><stop offset="0.2274" stop-color="rgb(226,226,226)"/><stop offset="0.2310" stop-color="rgb(226,226,226)"/><stop offset="0.2347" stop-color="rgb(226,226,226)"/><stop offset="0.2383" stop-color="rgb(226,226,226)"/><stop offset="0.2419" stop-color="rgb(226,226,226)"/><stop offset="0.2455" stop-color="rgb(226,226,226)"/><stop offset="0.2491" stop-color="rgb(226,226,226)"/><stop offset="0.2527" stop-color="rgb(227,227,227)"/><stop offset="0.2563" stop-color="rgb(227,227,227)"/><stop offset="0.2599" stop-color="rgb(227,227,227)"/><stop offset="0.2635" stop-color="rgb(227,227,227)"/><stop offset="0.2671" stop-color="rgb(227,227,227)"/><stop offset="0.2708" stop-color="rgb(227,227,227)"/><stop offset="0.2744" stop-color="rgb(227,227,227)"/><stop offset="0.2780" stop-color="rgb(227,227,227)"/><stop offset="0.2816" stop-color="rgb(227,227,227)"/><stop offset="0.2852" stop-color="rgb(227,227,227)"/><stop offset="0.2888" stop-color="rgb(227,227,227)"/><stop offset="0.2924" stop-color="rgb(227,227,227)"/><stop offset="0.2960" stop-color="rgb(227,227,227)"/><stop offset="0.2996" stop-color="rgb(227,227,227)"/><stop offset="0.3032" stop-color="rgb(227,227,227)"/><stop offset="0.3069" stop-color="rgb(218,218,218)"/><stop offset="0.3105" stop-color="rgb(210,210,210)"/><stop offset="0.3141" stop-color="rgb(218,218,218)"/><stop offset="0.3177" stop-color="rgb(227,227,227)"/><stop offset="0.3213" stop-color="rgb(227,227,227)"/><stop offset="0.3249" stop-color="rgb(226,226,226)"/><stop offset="0.3285" stop-color="rgb(218,218,218)"/><stop offset="0.3321" stop-color="rgb(210,210,210)"/><stop offset="0.3357" stop-color="rgb(211,211,211)"/><stop offset="0.3394" stop-color="rgb(222,222,222)"/><stop offset="0.3430" stop-color="rgb(227,227,227)"/><stop offset="0.3466" stop-color="rgb(227,227,227)"/><stop offset="0.3502" stop-color="rgb(227,227,227)"/><stop offset="0.3538" stop-color="rgb(227,227,227)"/><stop offset="0.3574" stop-color="rgb(227,227,227)"/><stop offset="0.3610" stop-color="rgb(227,227,227)"/><stop offset="0.3646" stop-color="rgb(227,227,227)"/><stop offset="0.3682" stop-color="rgb(227,227,227)"/><stop offset="0.3718" stop-color="rgb(227,227,227)"/><stop offset="0.3755" stop-color="rgb(227,227,227)"/><stop offset="0.3791" stop-color="rgb(227,227,227)"/><stop offset="0.3827" stop-color="rgb(227,227,227)"/><stop offset="0.3863" stop-color="rgb(227,227,227)"/><stop offset="0.3899" stop-color="rgb(227,227,227)"/><stop offset="0.3935" stop-color="rgb(227,227,227)"/><stop offset="0.3971" stop-color="rgb(227,227,227)"/><stop offset="0.4007" stop-color="rgb(227,227,227)"/><stop offset="0.4043" stop-color="rgb(227,227,227)"/><stop offset="0.4079" stop-color="rgb(227,227,227)"/><stop offset="0.4116" stop-color="rgb(227,227,227)"/><stop offset="0.4152" stop-color="rgb(227,227,227)"/><stop offset="0.4188" stop-color="rgb(227,227,227)"/><stop offset="0.4224" stop-color="rgb(227,227,227)"/><stop offset="0.4260" stop-color="rgb(227,227,227)"/><stop offset="0.4296" stop-color="rgb(227,227,227)"/><stop offset="0.4332" stop-color="rgb(227,227,227)"/><stop offset="0.4368" stop-color="rgb(227,227,227)"/><stop offset="0.4404" stop-color="rgb(227,227,227)"/><stop offset="0.4440" stop-color="rgb(227,227,227)"/><stop offset="0.4477" stop-color="rgb(227,227,227)"/><stop offset="0.4513" stop-color="rgb(227,227,227)"/><stop offset="0.4549" stop-color="rgb(227,227,227)"/><stop offset="0.4585" stop-color="rgb(227,227,227)"/><stop offset="0.4621" stop-color="rgb(227,227,227)"/><stop offset="0.4657" stop-color="rgb(227,227,227)"/><stop offset="0.4693" stop-color="rgb(224,224,224)"/><stop offset="0.4729" stop-color="rgb(210,210,210)"/><stop offset="0.4765" stop-color="rgb(218,218,218)"/><stop offset="0.4801" stop-color="rgb(227,227,227)"/><stop offset="0.4838" stop-color="rgb(227,227,227)"/><stop offset="0.4874" stop-color="rgb(227,227,227)"/><stop offset="0.4910" stop-color="rgb(218,218,218)"/><stop offset="0.4946" stop-color="rgb(210,210,210)"/><stop offset="0.4982" stop-color="rgb(214,214,214)"/><stop offset="0.5018" stop-color="rgb(226,226,226)"/><stop offset="0.5054" stop-color="rgb(227,227,227)"/><stop offset="0.5090" stop-color="rgb(227,227,227)"/><stop offset="0.5126" stop-color="rgb(227,227,227)"/><stop offset="0.5162" stop-color="rgb(227,227,227)"/><stop offset="0.5199" stop-color="rgb(227,227,227)"/><stop offset="0.5235" stop-color="rgb(227,227,227)"/><stop offset="0.5271" stop-color="rgb(227,227,227)"/><stop offset="0.5307" stop-color="rgb(227,227,227)"/><stop offset="0.5343" stop-color="rgb(227,227,227)"/><stop offset="0.5379" stop-color="rgb(227,227,227)"/><stop offset="0.5415" stop-color="rgb(227,227,227)"/><stop offset="0.5451" stop-color="rgb(227,227,227)"/><stop offset="0.5487" stop-color="rgb(227,227,227)"/><stop offset="0.5523" stop-color="rgb(227,227,227)"/><stop offset="0.5560" stop-color="rgb(227,227,227)"/><stop offset="0.5596" stop-color="rgb(227,227,227)"/><stop offset="0.5632" stop-color="rgb(227,227,227)"/><stop offset="0.5668" stop-color="rgb(227,227,227)"/><stop offset="0.5704" stop-color="rgb(227,227,227)"/><stop offset="0.5740" stop-color="rgb(227,227,227)"/><stop offset="0.5776" stop-color="rgb(227,227,227)"/><stop offset="0.5812" stop-color="rgb(227,227,227)"/><stop offset="0.5848" stop-color="rgb(224,224,224)"/><stop offset="0.5884" stop-color="rgb(215,215,215)"/><stop offset="0.5921" stop-color="rgb(209,209,209)"/><stop offset="0.5957" stop-color="rgb(208,208,208)"/><stop offset="0.5993" stop-color="rgb(211,211,211)"/><stop offset="0.6029" stop-color="rgb(221,221,221)"/><stop offset="0.6065" stop-color="rgb(226,226,226)"/><stop offset="0.6101" stop-color="rgb(227,227,227)"/><stop offset="0.6137" stop-color="rgb(227,227,227)"/><stop offset="0.6173" stop-color="rgb(227,227,227)"/><stop offset="0.6209" stop-color="rgb(223,223,223)"/><stop offset="0.6245" stop-color="rgb(207,207,207)"/><stop offset="0.6282" stop-color="rgb(200,200,200)"/><stop offset="0.6318" stop-color="rgb(204,204,204)"/><stop offset="0.6354" stop-color="rgb(221,221,221)"/><stop offset="0.6390" stop-color="rgb(227,227,227)"/><stop offset="0.6426" stop-color="rgb(227,227,227)"/><stop offset="0.6462" stop-color="rgb(227,227,227)"/><stop offset="0.6498" stop-color="rgb(227,227,227)"/><stop offset="0.6534" stop-color="rgb(226,226,226)"/><stop offset="0.6570" stop-color="rgb(215,215,215)"/><stop offset="0.6606" stop-color="rgb(178,178,178)"/><stop offset="0.6643" stop-color="rgb(139,139,139)"/><stop offset="0.6679" stop-color="rgb(128,128,128)"/><stop offset="0.6715" stop-color="rgb(131,131,131)"/><stop offset="0.6751" stop-color="rgb(156,156,156)"/><stop offset="0.6787" stop-color="rgb(199,199,199)"/><stop offset="0.6823" stop-color="rgb(223,223,223)"/><stop offset="0.6859" stop-color="rgb(227,227,227)"/><stop offset="0.6895" stop-color="rgb(227,227,227)"/><stop offset="0.6931" stop-color="rgb(227,227,227)"/><stop offset="0.6968" stop-color="rgb(220,220,220)"/><stop offset="0.7004" stop-color="rgb(220,220,220)"/><stop offset="0.7040" stop-color="rgb(227,227,227)"/><stop offset="0.7076" stop-color="rgb(227,227,227)"/><stop offset="0.7112" stop-color="rgb(227,227,227)"/><stop offset="0.7148" stop-color="rgb(227,227,227)"/><stop offset="0.7184" stop-color="rgb(227,227,227)"/><stop offset="0.7220" stop-color="rgb(227,227,227)"/><stop offset="0.7256" stop-color="rgb(227,227,227)"/><stop offset="0.7292" stop-color="rgb(227,227,227)"/><stop offset="0.7329" stop-color="rgb(227,227,227)"/><stop offset="0.7365" stop-color="rgb(227,227,227)"/><stop offset="0.7401" stop-color="rgb(227,227,227)"/><stop offset="0.7437" stop-color="rgb(227,227,227)"/><stop offset="0.7473" stop-color="rgb(227,227,227)"/><stop offset="0.7509" stop-color="rgb(227,227,227)"/><stop offset="0.7545" stop-color="rgb(221,221,221)"/><stop offset="0.7581" stop-color="rgb(201,201,201)"/><stop offset="0.7617" stop-color="rgb(161,161,161)"/><stop offset="0.7653" stop-color="rgb(124,124,124)"/><stop offset="0.7690" stop-color="rgb(106,106,106)"/><stop offset="0.7726" stop-color="rgb(104,104,104)"/><stop offset="0.7762" stop-color="rgb(108,108,108)"/><stop offset="0.7798" stop-color="rgb(130,130,130)"/><stop offset="0.7834" stop-color="rgb(170,170,170)"/><stop offset="0.7870" stop-color="rgb(190,190,190)"/><stop offset="0.7906" stop-color="rgb(189,189,189)"/><stop offset="0.7942" stop-color="rgb(209,209,209)"/><stop offset="0.7978" stop-color="rgb(227,227,227)"/><stop offset="0.8014" stop-color="rgb(228,228,228)"/><stop offset="0.8051" stop-color="rgb(228,228,228)"/><stop offset="0.8087" stop-color="rgb(228,228,228)"/><stop offset="0.8123" stop-color="rgb(228,228,228)"/><stop offset="0.8159" stop-color="rgb(228,228,228)"/><stop offset="0.8195" stop-color="rgb(228,228,228)"/><stop offset="0.8231" stop-color="rgb(228,228,228)"/><stop offset="0.8267" stop-color="rgb(228,228,228)"/><stop offset="0.8303" stop-color="rgb(228,228,228)"/><stop offset="0.8339" stop-color="rgb(228,228,228)"/><stop offset="0.8375" stop-color="rgb(228,228,228)"/><stop offset="0.8412" stop-color="rgb(228,228,228)"/><stop offset="0.8448" stop-color="rgb(228,228,228)"/><stop offset="0.8484" stop-color="rgb(228,228,228)"/><stop offset="0.8520" stop-color="rgb(228,228,228)"/><stop offset="0.8556" stop-color="rgb(228,228,228)"/><stop offset="0.8592" stop-color="rgb(228,228,228)"/><stop offset="0.8628" stop-color="rgb(228,228,228)"/><stop offset="0.8664" stop-color="rgb(228,228,228)"/><stop offset="0.8700" stop-color="rgb(228,228,228)"/><stop offset="0.8736" stop-color="rgb(228,228,228)"/><stop offset="0.8773" stop-color="rgb(228,228,228)"/><stop offset="0.8809" stop-color="rgb(228,228,228)"/><stop offset="0.8845" stop-color="rgb(228,228,228)"/><stop offset="0.8881" stop-color="rgb(227,227,227)"/><stop offset="0.8917" stop-color="rgb(225,225,225)"/><stop offset="0.8953" stop-color="rgb(218,218,218)"/><stop offset="0.8989" stop-color="rgb(201,201,201)"/><stop offset="0.9025" stop-color="rgb(179,179,179)"/><stop offset="0.9061" stop-color="rgb(161,161,161)"/><stop offset="0.9097" stop-color="rgb(153,153,153)"/><stop offset="0.9134" stop-color="rgb(152,152,152)"/><stop offset="0.9170" stop-color="rgb(153,153,153)"/><stop offset="0.9206" stop-color="rgb(161,161,161)"/><stop offset="0.9242" stop-color="rgb(179,179,179)"/><stop offset="0.9278" stop-color="rgb(201,201,201)"/><stop offset="0.9314" stop-color="rgb(218,218,218)"/><stop offset="0.9350" stop-color="rgb(226,226,226)"/><stop offset="0.9386" stop-color="rgb(228,228,228)"/><stop offset="0.9422" stop-color="rgb(228,228,228)"/><stop offset="0.9458" stop-color="rgb(228,228,228)"/><stop offset="0.9495" stop-color="rgb(228,228,228)"/><stop offset="0.9531" stop-color="rgb(228,228,228)"/><stop offset="0.9567" stop-color="rgb(228,228,228)"/><stop offset="0.9603" stop-color="rgb(228,228,228)"/><stop offset="0.9639" stop-color="rgb(228,228,228)"/><stop offset="0.9675" stop-color="rgb(228,228,228)"/><stop offset="0.9711" stop-color="rgb(228,228,228)"/><stop offset="0.9747" stop-color="rgb(228,228,228)"/><stop offset="0.9783" stop-color="rgb(228,228,228)"/><stop offset="0.9819" stop-color="rgb(228,228,228)"/><stop offset="0.9856" stop-color="rgb(228,228,228)"/><stop offset="0.9892" stop-color="rgb(228,228,228)"/><stop offset="0.9928" stop-color="rgb(228,228,228)"/><stop offset="0.9964" stop-color="rgb(228,228,228)"/><stop offset="1.0000" stop-color="rgb(228,228,228)"/></linearGradient><linearGradient id="s7" x1="0" y1="0" x2="0" y2="1"><stop offset="0.0000" stop-color="rgb(225,225,225)"/><stop offset="0.0036" stop-color="rgb(220,220,220)"/><stop offset="0.0072" stop-color="rgb(209,209,209)"/><stop offset="0.0108" stop-color="rgb(197,197,197)"/><stop offset="0.0144" stop-color="rgb(192,192,192)"/><stop offset="0.0181" stop-color="rgb(192,192,192)"/><stop offset="0.0217" stop-color="rgb(195,195,195)"/><stop offset="0.0253" stop-color="rgb(204,204,204)"/><stop offset="0.0289" stop-color="rgb(216,216,216)"/><stop offset="0.0325" stop-color="rgb(224,224,224)"/><stop offset="0.0361" stop-color="rgb(226,226,226)"/><stop offset="0.0397" stop-color="rgb(226,226,226)"/><stop offset="0.0433" stop-color="rgb(226,226,226)"/><stop offset="0.0469" stop-color="rgb(226,226,226)"/><stop offset="0.0505" stop-color="rgb(226,226,226)"/><stop offset="0.0542" stop-color="rgb(226,226,226)"/><stop offset="0.0578" stop-color="rgb(226,226,226)"/><stop offset="0.0614" stop-color="rgb(226,226,226)"/><stop offset="0.0650" stop-color="rgb(226,226,226)"/><stop offset="0.0686" stop-color="rgb(226,226,226)"/><stop offset="0.0722" stop-color="rgb(226,226,226)"/><stop offset="0.0758" stop-color="rgb(226,226,226)"/><stop offset="0.0794" stop-color="rgb(226,226,226)"/><stop offset="0.0830" stop-color="rgb(226,226,226)"/><stop offset="0.0866" stop-color="rgb(226,226,226)"/><stop offset="0.0903" stop-color="rgb(226,226,226)"/><stop offset="0.0939" stop-color="rgb(226,226,226)"/><stop offset="0.0975" stop-color="rgb(226,226,226)"/><stop offset="0.1011" stop-color="rgb(226,226,226)"/><stop offset="0.1047" stop-color="rgb(226,226,226)"/><stop offset="0.1083" stop-color="rgb(226,226,226)"/><stop offset="0.1119" stop-color="rgb(223,223,223)"/><stop offset="0.1155" stop-color="rgb(220,220,220)"/><stop offset="0.1191" stop-color="rgb(223,223,223)"/><stop offset="0.1227" stop-color="rgb(226,226,226)"/><stop offset="0.1264" stop-color="rgb(226,226,226)"/><stop offset="0.1300" stop-color="rgb(226,226,226)"/><stop offset="0.1336" stop-color="rgb(226,226,226)"/><stop offset="0.1372" stop-color="rgb(226,226,226)"/><stop offset="0.1408" stop-color="rgb(226,226,226)"/><stop offset="0.1444" stop-color="rgb(226,226,226)"/><stop offset="0.1480" stop-color="rgb(226,226,226)"/><stop offset="0.1516" stop-color="rgb(226,226,226)"/><stop offset="0.1552" stop-color="rgb(226,226,226)"/><stop offset="0.1588" stop-color="rgb(226,226,226)"/><stop offset="0.1625" stop-color="rgb(226,226,226)"/><stop offset="0.1661" stop-color="rgb(226,226,226)"/><stop offset="0.1697" stop-color="rgb(226,226,226)"/><stop offset="0.1733" stop-color="rgb(226,226,226)"/><stop offset="0.1769" stop-color="rgb(226,226,226)"/><stop offset="0.1805" stop-color="rgb(226,226,226)"/><stop offset="0.1841" stop-color="rgb(226,226,226)"/><stop offset="0.1877" stop-color="rgb(226,226,226)"/><stop offset="0.1913" stop-color="rgb(226,226,226)"/><stop offset="0.1949" stop-color="rgb(226,226,226)"/><stop offset="0.1986" stop-color="rgb(226,226,226)"/><stop offset="0.2022" stop-color="rgb(226,226,226)"/><stop offset="0.2058" stop-color="rgb(226,226,226)"/><stop offset="0.2094" stop-color="rgb(226,226,226)"/><stop offset="0.2130" stop-color="rgb(226,226,226)"/><stop offset="0.2166" stop-color="rgb(226,226,226)"/><stop offset="0.2202" stop-color="rgb(226,226,226)"/><stop offset="0.2238" stop-color="rgb(226,226,226)"/><stop offset="0.2274" stop-color="rgb(226,226,226)"/><stop offset="0.2310" stop-color="rgb(226,226,226)"/><stop offset="0.2347" stop-color="rgb(226,226,226)"/><stop offset="0.2383" stop-color="rgb(226,226,226)"/><stop offset="0.2419" stop-color="rgb(226,226,226)"/><stop offset="0.2455" stop-color="rgb(226,226,226)"/><stop offset="0.2491" stop-color="rgb(226,226,226)"/><stop offset="0.2527" stop-color="rgb(226,226,226)"/><stop offset="0.2563" stop-color="rgb(220,220,220)"/><stop offset="0.2599" stop-color="rgb(214,214,214)"/><stop offset="0.2635" stop-color="rgb(220,220,220)"/><stop offset="0.2671" stop-color="rgb(225,225,225)"/><stop offset="0.2708" stop-color="rgb(225,225,225)"/><stop offset="0.2744" stop-color="rgb(225,225,225)"/><stop offset="0.2780" stop-color="rgb(225,225,225)"/><stop offset="0.2816" stop-color="rgb(225,225,225)"/><stop offset="0.2852" stop-color="rgb(225,225,225)"/><stop offset="0.2888" stop-color="rgb(225,225,225)"/><stop offset="0.2924" stop-color="rgb(225,225,225)"/><stop offset="0.2960" stop-color="rgb(225,225,225)"/><stop offset="0.2996" stop-color="rgb(219,219,219)"/><stop offset="0.3032" stop-color="rgb(214,214,214)"/><stop offset="0.3069" stop-color="rgb(219,219,219)"/><stop offset="0.3105" stop-color="rgb(224,224,224)"/><stop offset="0.3141" stop-color="rgb(224,224,224)"/><stop offset="0.3177" stop-color="rgb(224,224,224)"/><stop offset="0.3213" stop-color="rgb(224,224,224)"/><stop offset="0.3249" stop-color="rgb(224,224,224)"/><stop offset="0.3285" stop-color="rgb(224,224,224)"/><stop offset="0.3321" stop-color="rgb(224,224,224)"/><stop offset="0.3357" stop-color="rgb(224,224,224)"/><stop offset="0.3394" stop-color="rgb(224,224,224)"/><stop offset="0.3430" stop-color="rgb(224,224,224)"/><stop offset="0.3466" stop-color="rgb(219,219,219)"/><stop offset="0.3502" stop-color="rgb(214,214,214)"/><stop offset="0.3538" stop-color="rgb(219,219,219)"/><stop offset="0.3574" stop-color="rgb(223,223,223)"/><stop offset="0.3610" stop-color="rgb(223,223,223)"/><stop offset="0.3646" stop-color="rgb(223,223,223)"/><stop offset="0.3682" stop-color="rgb(220,220,220)"/><stop offset="0.3718" stop-color="rgb(206,206,206)"/><stop offset="0.3755" stop-color="rgb(200,200,200)"/><stop offset="0.3791" stop-color="rgb(203,203,203)"/><stop offset="0.3827" stop-color="rgb(217,217,217)"/><stop offset="0.3863" stop-color="rgb(223,223,223)"/><stop offset="0.3899" stop-color="rgb(223,223,223)"/><stop offset="0.3935" stop-color="rgb(223,223,223)"/><stop offset="0.3971" stop-color="rgb(223,223,223)"/><stop offset="0.4007" stop-color="rgb(222,222,222)"/><stop offset="0.4043" stop-color="rgb(222,222,222)"/><stop offset="0.4079" stop-color="rgb(222,222,222)"/><stop offset="0.4116" stop-color="rgb(222,222,222)"/><stop offset="0.4152" stop-color="rgb(222,222,222)"/><stop offset="0.4188" stop-color="rgb(222,222,222)"/><stop offset="0.4224" stop-color="rgb(222,222,222)"/><stop offset="0.4260" stop-color="rgb(222,222,222)"/><stop offset="0.4296" stop-color="rgb(222,222,222)"/><stop offset="0.4332" stop-color="rgb(222,222,222)"/><stop offset="0.4368" stop-color="rgb(220,220,220)"/><stop offset="0.4404" stop-color="rgb(212,212,212)"/><stop offset="0.4440" stop-color="rgb(192,192,192)"/><stop offset="0.4477" stop-color="rgb(155,155,155)"/><stop offset="0.4513" stop-color="rgb(112,112,112)"/><stop offset="0.4549" stop-color="rgb(77,77,77)"/><stop offset="0.4585" stop-color="rgb(59,59,59)"/><stop offset="0.4621" stop-color="rgb(54,54,54)"/><stop offset="0.4657" stop-color="rgb(54,54,54)"/><stop offset="0.4693" stop-color="rgb(62,62,62)"/><stop offset="0.4729" stop-color="rgb(83,83,83)"/><stop offset="0.4765" stop-color="rgb(118,118,118)"/><stop offset="0.4801" stop-color="rgb(155,155,155)"/><stop offset="0.4838" stop-color="rgb(182,182,182)"/><stop offset="0.4874" stop-color="rgb(195,195,195)"/><stop offset="0.4910" stop-color="rgb(199,199,199)"/><stop offset="0.4946" stop-color="rgb(200,200,200)"/><stop offset="0.4982" stop-color="rgb(202,202,202)"/><stop offset="0.5018" stop-color="rgb(205,205,205)"/><stop offset="0.5054" stop-color="rgb(210,210,210)"/><stop offset="0.5090" stop-color="rgb(215,215,215)"/><stop offset="0.5126" stop-color="rgb(218,218,218)"/><stop offset="0.5162" stop-color="rgb(220,220,220)"/><stop offset="0.5199" stop-color="rgb(220,220,220)"/><stop offset="0.5235" stop-color="rgb(220,220,220)"/><stop offset="0.5271" stop-color="rgb(220,220,220)"/><stop offset="0.5307" stop-color="rgb(214,214,214)"/><stop offset="0.5343" stop-color="rgb(177,177,177)"/><stop offset="0.5379" stop-color="rgb(146,146,146)"/><stop offset="0.5415" stop-color="rgb(145,145,145)"/><stop offset="0.5451" stop-color="rgb(169,169,169)"/><stop offset="0.5487" stop-color="rgb(210,210,210)"/><stop offset="0.5523" stop-color="rgb(220,220,220)"/><stop offset="0.5560" stop-color="rgb(221,221,221)"/><stop offset="0.5596" stop-color="rgb(221,221,221)"/><stop offset="0.5632" stop-color="rgb(221,221,221)"/><stop offset="0.5668" stop-color="rgb(221,221,221)"/><stop offset="0.5704" stop-color="rgb(221,221,221)"/><stop offset="0.5740" stop-color="rgb(221,221,221)"/><stop offset="0.5776" stop-color="rgb(221,221,221)"/><stop offset="0.5812" stop-color="rgb(221,221,221)"/><stop offset="0.5848" stop-color="rgb(221,221,221)"/><stop offset="0.5884" stop-color="rgb(221,221,221)"/><stop offset="0.5921" stop-color="rgb(221,221,221)"/><stop offset="0.5957" stop-color="rgb(221,221,221)"/><stop offset="0.5993" stop-color="rgb(208,208,208)"/><stop offset="0.6029" stop-color="rgb(127,127,127)"/><stop offset="0.6065" stop-color="rgb(88,88,88)"/><stop offset="0.6101" stop-color="rgb(105,105,105)"/><stop offset="0.6137" stop-color="rgb(190,190,190)"/><stop offset="0.6173" stop-color="rgb(221,221,221)"/><stop offset="0.6209" stop-color="rgb(222,222,222)"/><stop offset="0.6245" stop-color="rgb(219,219,219)"/><stop offset="0.6282" stop-color="rgb(191,191,191)"/><stop offset="0.6318" stop-color="rgb(122,122,122)"/><stop offset="0.6354" stop-color="rgb(83,83,83)"/><stop offset="0.6390" stop-color="rgb(81,81,81)"/><stop offset="0.6426" stop-color="rgb(110,110,110)"/><stop offset="0.6462" stop-color="rgb(179,179,179)"/><stop offset="0.6498" stop-color="rgb(218,218,218)"/><stop offset="0.6534" stop-color="rgb(222,222,222)"/><stop offset="0.6570" stop-color="rgb(216,216,216)"/><stop offset="0.6606" stop-color="rgb(194,194,194)"/><stop offset="0.6643" stop-color="rgb(145,145,145)"/><stop offset="0.6679" stop-color="rgb(81,81,81)"/><stop offset="0.6715" stop-color="rgb(30,30,30)"/><stop offset="0.6751" stop-color="rgb(7,7,7)"/><stop offset="0.6787" stop-color="rgb(4,4,4)"/><stop offset="0.6823" stop-color="rgb(8,8,8)"/><stop offset="0.6859" stop-color="rgb(34,34,34)"/><stop offset="0.6895" stop-color="rgb(87,87,87)"/><stop offset="0.6931" stop-color="rgb(152,152,152)"/><stop offset="0.6968" stop-color="rgb(198,198,198)"/><stop offset="0.7004" stop-color="rgb(218,218,218)"/><stop offset="0.7040" stop-color="rgb(223,223,223)"/><stop offset="0.7076" stop-color="rgb(223,223,223)"/><stop offset="0.7112" stop-color="rgb(224,224,224)"/><stop offset="0.7148" stop-color="rgb(224,224,224)"/><stop offset="0.7184" stop-color="rgb(224,224,224)"/><stop offset="0.7220" stop-color="rgb(224,224,224)"/><stop offset="0.7256" stop-color="rgb(224,224,224)"/><stop offset="0.7292" stop-color="rgb(224,224,224)"/><stop offset="0.7329" stop-color="rgb(224,224,224)"/><stop offset="0.7365" stop-color="rgb(224,224,224)"/><stop offset="0.7401" stop-color="rgb(223,223,223)"/><stop offset="0.7437" stop-color="rgb(221,221,221)"/><stop offset="0.7473" stop-color="rgb(215,215,215)"/><stop offset="0.7509" stop-color="rgb(202,202,202)"/><stop offset="0.7545" stop-color="rgb(179,179,179)"/><stop offset="0.7581" stop-color="rgb(148,148,148)"/><stop offset="0.7617" stop-color="rgb(110,110,110)"/><stop offset="0.7653" stop-color="rgb(73,73,73)"/><stop offset="0.7690" stop-color="rgb(42,42,42)"/><stop offset="0.7726" stop-color="rgb(20,20,20)"/><stop offset="0.7762" stop-color="rgb(9,9,9)"/><stop offset="0.7798" stop-color="rgb(4,4,4)"/><stop offset="0.7834" stop-color="rgb(4,4,4)"/><stop offset="0.7870" stop-color="rgb(5,5,5)"/><stop offset="0.7906" stop-color="rgb(11,11,11)"/><stop offset="0.7942" stop-color="rgb(25,25,25)"/><stop offset="0.7978" stop-color="rgb(49,49,49)"/><stop offset="0.8014" stop-color="rgb(75,75,75)"/><stop offset="0.8051" stop-color="rgb(91,91,91)"/><stop offset="0.8087" stop-color="rgb(87,87,87)"/><stop offset="0.8123" stop-color="rgb(68,68,68)"/><stop offset="0.8159" stop-color="rgb(49,49,49)"/><stop offset="0.8195" stop-color="rgb(40,40,40)"/><stop offset="0.8231" stop-color="rgb(40,40,40)"/><stop offset="0.8267" stop-color="rgb(42,42,42)"/><stop offset="0.8303" stop-color="rgb(53,53,53)"/><stop offset="0.8339" stop-color="rgb(81,81,81)"/><stop offset="0.8375" stop-color="rgb(124,124,124)"/><stop offset="0.8412" stop-color="rgb(168,168,168)"/><stop offset="0.8448" stop-color="rgb(201,201,201)"/><stop offset="0.8484" stop-color="rgb(218,218,218)"/><stop offset="0.8520" stop-color="rgb(224,224,224)"/><stop offset="0.8556" stop-color="rgb(226,226,226)"/><stop offset="0.8592" stop-color="rgb(226,226,226)"/><stop offset="0.8628" stop-color="rgb(225,225,225)"/><stop offset="0.8664" stop-color="rgb(222,222,222)"/><stop offset="0.8700" stop-color="rgb(211,211,211)"/><stop offset="0.8736" stop-color="rgb(194,194,194)"/><stop offset="0.8773" stop-color="rgb(181,181,181)"/><stop offset="0.8809" stop-color="rgb(176,176,176)"/><stop offset="0.8845" stop-color="rgb(176,176,176)"/><stop offset="0.8881" stop-color="rgb(179,179,179)"/><stop offset="0.8917" stop-color="rgb(191,191,191)"/><stop offset="0.8953" stop-color="rgb(208,208,208)"/><stop offset="0.8989" stop-color="rgb(221,221,221)"/><stop offset="0.9025" stop-color="rgb(225,225,225)"/><stop offset="0.9061" stop-color="rgb(222,222,222)"/><stop offset="0.9097" stop-color="rgb(212,212,212)"/><stop offset="0.9134" stop-color="rgb(193,193,193)"/><stop offset="0.9170" stop-color="rgb(169,169,169)"/><stop offset="0.9206" stop-color="rgb(150,150,150)"/><stop offset="0.9242" stop-color="rgb(139,139,139)"/><stop offset="0.9278" stop-color="rgb(136,136,136)"/><stop offset="0.9314" stop-color="rgb(136,136,136)"/><stop offset="0.9350" stop-color="rgb(140,140,140)"/><stop offset="0.9386" stop-color="rgb(152,152,152)"/><stop offset="0.9422" stop-color="rgb(172,172,172)"/><stop offset="0.9458" stop-color="rgb(196,196,196)"/><stop offset="0.9495" stop-color="rgb(214,214,214)"/><stop offset="0.9531" stop-color="rgb(223,223,223)"/><stop offset="0.9567" stop-color="rgb(227,227,227)"/><stop offset="0.9603" stop-color="rgb(227,227,227)"/><stop offset="0.9639" stop-color="rgb(227,227,227)"/><stop offset="0.9675" stop-color="rgb(228,228,228)"/><stop offset="0.9711" stop-color="rgb(228,228,228)"/><stop offset="0.9747" stop-color="rgb(228,228,228)"/><stop offset="0.9783" stop-color="rgb(228,228,228)"/><stop offset="0.9819" stop-color="rgb(228,228,228)"/><stop offset="0.9856" stop-color="rgb(228,228,228)"/><stop offset="0.9892" stop-color="rgb(228,228,228)"/><stop offset="0.9928" stop-color="rgb(228,228,228)"/><stop offset="0.9964" stop-color="rgb(228,228,228)"/><stop offset="1.0000" stop-color="rgb(228,228,228)"/></linearGradient></defs><text x="59.00" y="515.80" font-size="14" text-anchor="end" font-weight="normal" >SU</text><line x1="63.60" y1="511.20" x2="71.30" y2="511.20" stroke="#000" stroke-width="1.4"/><text x="59.00" y="685.90" font-size="14" text-anchor="end" font-weight="normal" >gp24</text><line x1="63.60" y1="681.00" x2="71.30" y2="681.00" stroke="#000" stroke-width="1.4"/><text x="59.00" y="715.20" font-size="14" text-anchor="end" font-weight="normal" >p19</text><line x1="63.60" y1="711.80" x2="71.30" y2="711.80" stroke="#000" stroke-width="1.4"/><text x="59.00" y="752.40" font-size="14" text-anchor="end" font-weight="normal" >TM</text><line x1="63.60" y1="748.20" x2="71.30" y2="748.20" stroke="#000" stroke-width="1.4"/><text x="59.60" y="528.40" font-size="14" text-anchor="end" font-weight="normal" >(gp46)</text><text x="59.60" y="764.60" font-size="14" text-anchor="end" font-weight="normal" >(p21)</text><text x="63.00" y="787.00" font-size="13.6" text-anchor="end" font-weight="normal" >Rabbit</text><text x="63.00" y="804.50" font-size="13.6" text-anchor="end" font-weight="normal" >Treatment</text><text x="74.90" y="787.00" font-size="13.6" text-anchor="middle" font-weight="normal" >17</text><text x="74.90" y="804.50" font-size="13.6" text-anchor="middle" font-weight="normal" >S</text><text x="95.30" y="787.00" font-size="13.6" text-anchor="middle" font-weight="normal" >3</text><text x="95.30" y="804.50" font-size="13.6" text-anchor="middle" font-weight="normal" >10</text><text x="115.80" y="787.00" font-size="13.6" text-anchor="middle" font-weight="normal" >11</text><text x="115.80" y="804.50" font-size="13.6" text-anchor="middle" font-weight="normal" >20</text><text x="137.00" y="787.00" font-size="13.6" text-anchor="middle" font-weight="normal" >21</text><text x="137.00" y="804.50" font-size="13.6" text-anchor="middle" font-weight="normal" >D</text><text x="167.20" y="787.00" font-size="13.6" text-anchor="middle" font-weight="normal" >17</text><text x="167.20" y="804.50" font-size="13.6" text-anchor="middle" font-weight="normal" >S</text><text x="188.10" y="787.00" font-size="13.6" text-anchor="middle" font-weight="normal" >3</text><text x="188.10" y="804.50" font-size="13.6" text-anchor="middle" font-weight="normal" >10</text><text x="209.40" y="787.00" font-size="13.6" text-anchor="middle" font-weight="normal" >11</text><text x="209.40" y="804.50" font-size="13.6" text-anchor="middle" font-weight="normal" >20</text><text x="230.80" y="787.00" font-size="13.6" text-anchor="middle" font-weight="normal" >21</text><text x="230.80" y="804.50" font-size="13.6" text-anchor="middle" font-weight="normal" >D</text><text x="260.00" y="424.00" font-size="25" text-anchor="start" font-weight="bold" >D</text><rect x="338.25" y="407.05" width="15.50" height="15.50" fill="#838383" stroke="#000" stroke-width="1.5"/><text x="358.20" y="419.60" font-size="14.45" text-anchor="start" font-weight="normal" >Saline Control</text><rect x="338.25" y="429.52" width="15.50" height="15.50" fill="#fff" stroke="#000" stroke-width="1.5"/><text x="358.20" y="442.07" font-size="14.45" text-anchor="start" font-weight="normal" >CsA (10 mg/kg)</text><rect x="338.25" y="451.99" width="15.50" height="15.50" fill="#000" stroke="#000" stroke-width="1.5"/><text x="358.20" y="464.54" font-size="14.45" text-anchor="start" font-weight="normal" >CsA (20 mg/kg)</text><rect x="338.25" y="474.46" width="15.50" height="15.50" fill="url(#hatch)" stroke="#000" stroke-width="1.5"/><text x="358.20" y="487.01" font-size="14.45" text-anchor="start" font-weight="normal" >CsA (20 mg/kg) Delayed</text><line x1="331.40" y1="494.75" x2="331.40" y2="775.40" stroke="#000" stroke-width="1.5"/><line x1="327.10" y1="771.40" x2="331.40" y2="771.40" stroke="#000" stroke-width="1.5"/><text x="323.70" y="778.50" font-size="13" text-anchor="end" font-weight="normal" >0</text><line x1="327.10" y1="731.96" x2="331.40" y2="731.96" stroke="#000" stroke-width="1.5"/><text x="323.70" y="739.06" font-size="13" text-anchor="end" font-weight="normal" >10000</text><line x1="327.10" y1="692.52" x2="331.40" y2="692.52" stroke="#000" stroke-width="1.5"/><text x="323.70" y="699.62" font-size="13" text-anchor="end" font-weight="normal" >20000</text><line x1="327.10" y1="653.08" x2="331.40" y2="653.08" stroke="#000" stroke-width="1.5"/><text x="323.70" y="660.18" font-size="13" text-anchor="end" font-weight="normal" >30000</text><line x1="327.10" y1="613.64" x2="331.40" y2="613.64" stroke="#000" stroke-width="1.5"/><text x="323.70" y="620.74" font-size="13" text-anchor="end" font-weight="normal" >40000</text><line x1="327.10" y1="574.20" x2="331.40" y2="574.20" stroke="#000" stroke-width="1.5"/><text x="323.70" y="581.30" font-size="13" text-anchor="end" font-weight="normal" >50000</text><line x1="327.10" y1="534.76" x2="331.40" y2="534.76" stroke="#000" stroke-width="1.5"/><text x="323.70" y="541.86" font-size="13" text-anchor="end" font-weight="normal" >60000</text><line x1="327.10" y1="495.32" x2="331.40" y2="495.32" stroke="#000" stroke-width="1.5"/><text x="323.70" y="502.42" font-size="13" text-anchor="end" font-weight="normal" >70000</text><line x1="331.40" y1="771.40" x2="514.70" y2="771.40" stroke="#000" stroke-width="1.5"/><line x1="424.30" y1="771.40" x2="424.30" y2="775.20" stroke="#000" stroke-width="1.5"/><line x1="514.50" y1="771.40" x2="514.50" y2="775.20" stroke="#000" stroke-width="1.5"/><line x1="353.25" y1="591.70" x2="353.25" y2="531.10" stroke="#000" stroke-width="1.6"/><line x1="348.95" y1="531.10" x2="357.55" y2="531.10" stroke="#000" stroke-width="1.6"/><line x1="369.65" y1="613.90" x2="369.65" y2="533.70" stroke="#000" stroke-width="1.6"/><line x1="365.35" y1="533.70" x2="373.95" y2="533.70" stroke="#000" stroke-width="1.6"/><line x1="386.35" y1="630.10" x2="386.35" y2="553.60" stroke="#000" stroke-width="1.6"/><line x1="382.05" y1="553.60" x2="390.65" y2="553.60" stroke="#000" stroke-width="1.6"/><line x1="403.20" y1="618.00" x2="403.20" y2="558.10" stroke="#000" stroke-width="1.6"/><line x1="398.90" y1="558.10" x2="407.50" y2="558.10" stroke="#000" stroke-width="1.6"/><rect x="345.20" y="591.70" width="16.10" height="179.70" fill="#838383" stroke="#000" stroke-width="1.5"/><rect x="361.30" y="613.90" width="16.70" height="157.50" fill="#fff" stroke="#000" stroke-width="1.5"/><rect x="378.00" y="630.10" width="16.70" height="141.30" fill="#000" stroke="#000" stroke-width="1.5"/><rect x="394.70" y="618.00" width="17.00" height="153.40" fill="url(#hatch)" stroke="#000" stroke-width="1.5"/><line x1="446.00" y1="563.10" x2="446.00" y2="519.20" stroke="#000" stroke-width="1.6"/><line x1="441.70" y1="519.20" x2="450.30" y2="519.20" stroke="#000" stroke-width="1.6"/><line x1="462.80" y1="608.00" x2="462.80" y2="537.20" stroke="#000" stroke-width="1.6"/><line x1="458.50" y1="537.20" x2="467.10" y2="537.20" stroke="#000" stroke-width="1.6"/><line x1="479.80" y1="646.70" x2="479.80" y2="573.30" stroke="#000" stroke-width="1.6"/><line x1="475.50" y1="573.30" x2="484.10" y2="573.30" stroke="#000" stroke-width="1.6"/><line x1="496.35" y1="651.20" x2="496.35" y2="590.10" stroke="#000" stroke-width="1.6"/><line x1="492.05" y1="590.10" x2="500.65" y2="590.10" stroke="#000" stroke-width="1.6"/><rect x="437.60" y="563.10" width="16.80" height="208.30" fill="#838383" stroke="#000" stroke-width="1.5"/><rect x="454.40" y="608.00" width="16.80" height="163.40" fill="#fff" stroke="#000" stroke-width="1.5"/><rect x="471.20" y="646.70" width="17.20" height="124.70" fill="#000" stroke="#000" stroke-width="1.5"/><rect x="488.40" y="651.20" width="15.90" height="120.20" fill="url(#hatch)" stroke="#000" stroke-width="1.5"/><text x="376.00" y="788.60" font-size="13.2" text-anchor="middle" font-weight="normal" >4</text><text x="471.60" y="788.60" font-size="13.2" text-anchor="middle" font-weight="normal" >10</text><text x="406.00" y="804.20" font-size="16" text-anchor="start" font-weight="normal" >Week</text><text transform="translate(272.2,631.6) rotate(-90)" font-size="16.4" text-anchor="middle">Ave Pixel/Area</text></g></svg>
</div>
</body></html>
